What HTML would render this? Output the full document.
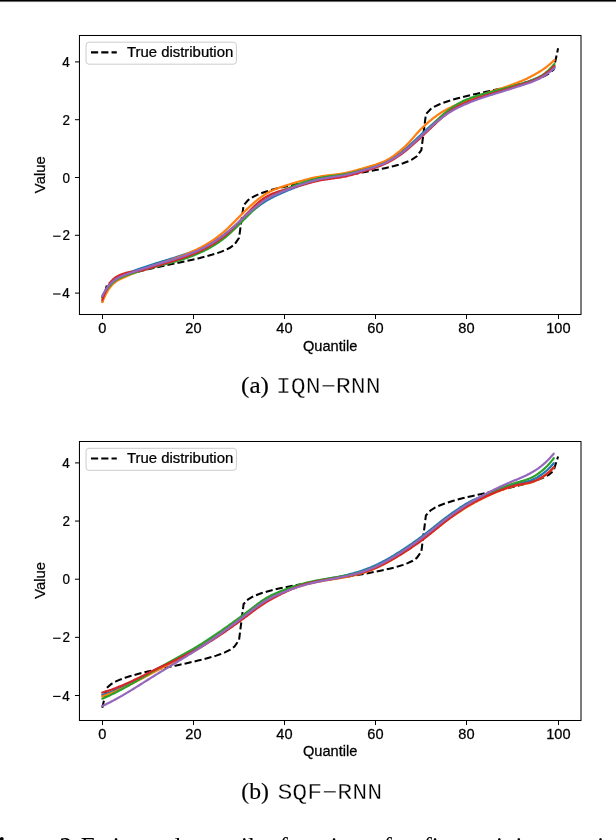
<!DOCTYPE html>
<html><head><meta charset="utf-8"><style>
html,body{margin:0;padding:0;background:#fff;}
body{width:616px;height:840px;overflow:hidden;position:relative;}
svg{position:absolute;left:0;top:0;}
svg text{fill:#000;}
.t{stroke:#000;stroke-width:0.25px;}
.thin{stroke:#fff;stroke-width:0.3px;}
.bold{stroke:#000;stroke-width:0.15px;}
svg{will-change:transform;}
.s{font-family:"Liberation Sans",sans-serif;}
.r{font-family:"Liberation Serif",serif;}
.m{font-family:"Liberation Mono",monospace;}
.cap{position:absolute;white-space:nowrap;color:#000;}
</style></head><body>
<svg width="616" height="840" viewBox="0 0 616 840">
<defs>
<clipPath id="clip0"><rect x="79.45" y="35.5" width="501.55" height="279"/></clipPath>
<clipPath id="clip1"><rect x="79.45" y="441.5" width="501.55" height="279"/></clipPath>
</defs>
<rect x="0" y="0" width="616" height="840" fill="#fff"/>
<rect x="0" y="0" width="616" height="1" fill="#000"/><rect x="0" y="1" width="616" height="1" fill="#6a6a6a"/><rect x="0" y="2" width="616" height="1" fill="#f6f6f6"/>
<g clip-path="url(#clip0)">
<path d="M102.30 302.35 L106.86 285.46 L111.42 281.62 L115.97 279.09 L120.53 277.12 L125.09 275.47 L129.65 274.02 L134.21 272.72 L138.76 271.51 L143.32 270.38 L147.88 269.30 L152.44 268.27 L157.00 267.27 L161.55 266.29 L166.11 265.32 L170.67 264.37 L175.23 263.41 L179.79 262.45 L184.34 261.48 L188.90 260.49 L193.46 259.46 L198.02 258.40 L202.58 257.29 L207.13 256.12 L211.69 254.85 L216.25 253.45 L220.81 251.88 L225.37 250.04 L229.92 247.76 L234.48 244.54 L239.04 237.93 L243.60 205.31 L248.16 200.08 L252.71 197.06 L257.27 194.84 L261.83 193.03 L266.39 191.48 L270.95 190.10 L275.50 188.86 L280.06 187.71 L284.62 186.63 L289.18 185.62 L293.74 184.65 L298.29 183.72 L302.85 182.82 L307.41 181.95 L311.97 181.09 L316.53 180.25 L321.08 179.42 L325.64 178.60 L330.20 177.79 L334.76 177.03 L339.32 176.30 L343.87 175.57 L348.43 174.83 L352.99 174.08 L357.55 173.32 L362.11 172.53 L366.66 171.73 L371.22 170.89 L375.78 170.02 L380.34 169.10 L384.90 168.13 L389.45 167.08 L394.01 165.94 L398.57 164.68 L403.13 163.24 L407.69 161.54 L412.24 159.40 L416.80 156.36 L421.36 150.03 L425.92 114.10 L430.48 109.21 L435.03 106.34 L439.59 104.21 L444.15 102.45 L448.71 100.92 L453.27 99.56 L457.82 98.31 L462.38 97.14 L466.94 96.03 L471.50 94.97 L476.06 93.94 L480.61 92.94 L485.17 91.95 L489.73 90.97 L494.29 89.99 L498.85 89.01 L503.40 88.01 L507.96 86.99 L512.52 85.95 L517.08 84.86 L521.64 83.71 L526.19 82.49 L530.75 81.17 L535.31 79.71 L539.87 78.04 L544.43 76.06 L548.98 73.52 L553.54 69.66 L558.10 48.32" fill="none" stroke="#000" stroke-width="2.05" stroke-dasharray="7.16 3.1"/>
<path d="M102.30 296.52 L103.43 294.29 L104.57 292.22 L105.70 290.32 L106.83 288.56 L107.97 286.95 L109.10 285.47 L110.23 284.12 L111.37 282.89 L112.50 281.76 L113.63 280.74 L114.77 279.81 L115.90 278.96 L117.03 278.19 L118.17 277.49 L119.30 276.85 L120.43 276.26 L121.56 275.71 L122.70 275.20 L123.83 274.71 L124.96 274.25 L126.10 273.79 L127.23 273.34 L128.36 272.89 L129.50 272.46 L130.63 272.02 L131.76 271.59 L132.90 271.17 L134.03 270.75 L135.16 270.34 L136.30 269.93 L137.43 269.53 L138.56 269.13 L139.70 268.73 L140.83 268.34 L141.96 267.95 L143.10 267.56 L144.23 267.18 L145.36 266.80 L146.50 266.43 L147.63 266.05 L148.76 265.69 L149.90 265.32 L151.03 264.96 L152.16 264.60 L153.29 264.24 L154.43 263.88 L155.56 263.53 L156.69 263.17 L157.83 262.82 L158.96 262.47 L160.09 262.11 L161.23 261.76 L162.36 261.42 L163.49 261.07 L164.63 260.72 L165.76 260.37 L166.89 260.03 L168.03 259.68 L169.16 259.33 L170.29 258.98 L171.43 258.63 L172.56 258.28 L173.69 257.93 L174.83 257.57 L175.96 257.22 L177.09 256.86 L178.23 256.49 L179.36 256.13 L180.49 255.77 L181.63 255.40 L182.76 255.03 L183.89 254.66 L185.02 254.28 L186.16 253.89 L187.29 253.50 L188.42 253.11 L189.56 252.71 L190.69 252.30 L191.82 251.88 L192.96 251.45 L194.09 251.02 L195.22 250.57 L196.36 250.12 L197.49 249.65 L198.62 249.18 L199.76 248.69 L200.89 248.18 L202.02 247.67 L203.16 247.14 L204.29 246.60 L205.42 246.05 L206.56 245.49 L207.69 244.91 L208.82 244.32 L209.96 243.72 L211.09 243.10 L212.22 242.47 L213.36 241.82 L214.49 241.15 L215.62 240.47 L216.75 239.77 L217.89 239.05 L219.02 238.31 L220.15 237.55 L221.29 236.78 L222.42 235.98 L223.55 235.16 L224.69 234.31 L225.82 233.45 L226.95 232.57 L228.09 231.68 L229.22 230.77 L230.35 229.84 L231.49 228.91 L232.62 227.96 L233.75 227.00 L234.89 226.04 L236.02 225.07 L237.15 224.09 L238.29 223.11 L239.42 222.12 L240.55 221.13 L241.69 220.14 L242.82 219.16 L243.95 218.17 L245.09 217.18 L246.22 216.20 L247.35 215.23 L248.48 214.26 L249.62 213.30 L250.75 212.34 L251.88 211.40 L253.02 210.47 L254.15 209.55 L255.28 208.65 L256.42 207.76 L257.55 206.89 L258.68 206.03 L259.82 205.19 L260.95 204.38 L262.08 203.58 L263.22 202.81 L264.35 202.06 L265.48 201.34 L266.62 200.64 L267.75 199.97 L268.88 199.31 L270.02 198.68 L271.15 198.07 L272.28 197.48 L273.42 196.90 L274.55 196.34 L275.68 195.79 L276.82 195.25 L277.95 194.73 L279.08 194.21 L280.22 193.71 L281.35 193.21 L282.48 192.72 L283.61 192.24 L284.75 191.75 L285.88 191.27 L287.01 190.79 L288.15 190.32 L289.28 189.85 L290.41 189.38 L291.55 188.92 L292.68 188.46 L293.81 188.01 L294.95 187.56 L296.08 187.12 L297.21 186.68 L298.35 186.25 L299.48 185.83 L300.61 185.41 L301.75 185.01 L302.88 184.61 L304.01 184.21 L305.15 183.83 L306.28 183.46 L307.41 183.09 L308.55 182.73 L309.68 182.37 L310.81 182.03 L311.95 181.69 L313.08 181.37 L314.21 181.05 L315.34 180.74 L316.48 180.44 L317.61 180.15 L318.74 179.87 L319.88 179.60 L321.01 179.34 L322.14 179.09 L323.28 178.85 L324.41 178.62 L325.54 178.41 L326.68 178.20 L327.81 178.00 L328.94 177.81 L330.08 177.62 L331.21 177.44 L332.34 177.26 L333.48 177.09 L334.61 176.91 L335.74 176.73 L336.88 176.55 L338.01 176.36 L339.14 176.17 L340.28 175.98 L341.41 175.77 L342.54 175.56 L343.68 175.33 L344.81 175.10 L345.94 174.85 L347.07 174.59 L348.21 174.32 L349.34 174.03 L350.47 173.74 L351.61 173.44 L352.74 173.14 L353.87 172.82 L355.01 172.50 L356.14 172.18 L357.27 171.85 L358.41 171.51 L359.54 171.18 L360.67 170.84 L361.81 170.50 L362.94 170.16 L364.07 169.82 L365.21 169.48 L366.34 169.14 L367.47 168.80 L368.61 168.45 L369.74 168.11 L370.87 167.76 L372.01 167.40 L373.14 167.03 L374.27 166.65 L375.41 166.27 L376.54 165.87 L377.67 165.46 L378.80 165.03 L379.94 164.59 L381.07 164.13 L382.20 163.65 L383.34 163.15 L384.47 162.63 L385.60 162.08 L386.74 161.51 L387.87 160.92 L389.00 160.30 L390.14 159.66 L391.27 159.00 L392.40 158.31 L393.54 157.60 L394.67 156.87 L395.80 156.12 L396.94 155.34 L398.07 154.55 L399.20 153.73 L400.34 152.89 L401.47 152.02 L402.60 151.14 L403.74 150.23 L404.87 149.31 L406.00 148.36 L407.14 147.40 L408.27 146.42 L409.40 145.43 L410.54 144.42 L411.67 143.40 L412.80 142.37 L413.93 141.33 L415.07 140.28 L416.20 139.22 L417.33 138.16 L418.47 137.10 L419.60 136.03 L420.73 134.96 L421.87 133.90 L423.00 132.83 L424.13 131.77 L425.27 130.71 L426.40 129.66 L427.53 128.62 L428.67 127.59 L429.80 126.56 L430.93 125.54 L432.07 124.54 L433.20 123.55 L434.33 122.57 L435.47 121.61 L436.60 120.67 L437.73 119.74 L438.87 118.83 L440.00 117.94 L441.13 117.07 L442.27 116.22 L443.40 115.40 L444.53 114.60 L445.66 113.83 L446.80 113.07 L447.93 112.35 L449.06 111.64 L450.20 110.95 L451.33 110.29 L452.46 109.64 L453.60 109.01 L454.73 108.40 L455.86 107.81 L457.00 107.22 L458.13 106.66 L459.26 106.10 L460.40 105.56 L461.53 105.03 L462.66 104.51 L463.80 104.00 L464.93 103.50 L466.06 103.01 L467.20 102.52 L468.33 102.04 L469.46 101.58 L470.60 101.12 L471.73 100.66 L472.86 100.22 L474.00 99.78 L475.13 99.34 L476.26 98.92 L477.39 98.50 L478.53 98.08 L479.66 97.67 L480.79 97.27 L481.93 96.87 L483.06 96.47 L484.19 96.08 L485.33 95.69 L486.46 95.31 L487.59 94.92 L488.73 94.54 L489.86 94.17 L490.99 93.79 L492.13 93.42 L493.26 93.05 L494.39 92.68 L495.53 92.31 L496.66 91.94 L497.79 91.57 L498.93 91.20 L500.06 90.83 L501.19 90.46 L502.33 90.09 L503.46 89.72 L504.59 89.35 L505.73 88.97 L506.86 88.60 L507.99 88.22 L509.12 87.84 L510.26 87.46 L511.39 87.08 L512.52 86.70 L513.66 86.32 L514.79 85.94 L515.92 85.56 L517.06 85.19 L518.19 84.81 L519.32 84.44 L520.46 84.07 L521.59 83.70 L522.72 83.33 L523.86 82.96 L524.99 82.59 L526.12 82.21 L527.26 81.83 L528.39 81.44 L529.52 81.04 L530.66 80.62 L531.79 80.20 L532.92 79.77 L534.06 79.34 L535.19 78.90 L536.32 78.45 L537.46 77.98 L538.59 77.50 L539.72 77.00 L540.85 76.49 L541.99 75.94 L543.12 75.38 L544.25 74.78 L545.39 74.15 L546.52 73.49 L547.65 72.80 L548.79 72.06 L549.92 71.28 L551.05 70.46 L552.19 69.60 L553.32 68.68 L554.45 67.71" fill="none" stroke="#1f77b4" stroke-width="2.2" stroke-linejoin="round" stroke-linecap="round"/>
<path d="M102.30 302.01 L103.43 299.36 L104.57 296.88 L105.70 294.59 L106.83 292.47 L107.97 290.53 L109.10 288.77 L110.23 287.18 L111.37 285.76 L112.50 284.52 L113.63 283.46 L114.77 282.51 L115.90 281.66 L117.03 280.89 L118.17 280.20 L119.30 279.58 L120.43 279.00 L121.56 278.47 L122.70 277.96 L123.83 277.48 L124.96 277.01 L126.10 276.53 L127.23 276.05 L128.36 275.57 L129.50 275.08 L130.63 274.59 L131.76 274.10 L132.90 273.61 L134.03 273.12 L135.16 272.64 L136.30 272.16 L137.43 271.68 L138.56 271.21 L139.70 270.75 L140.83 270.29 L141.96 269.85 L143.10 269.41 L144.23 268.98 L145.36 268.56 L146.50 268.15 L147.63 267.74 L148.76 267.34 L149.90 266.93 L151.03 266.54 L152.16 266.14 L153.29 265.75 L154.43 265.36 L155.56 264.97 L156.69 264.59 L157.83 264.21 L158.96 263.82 L160.09 263.45 L161.23 263.07 L162.36 262.69 L163.49 262.32 L164.63 261.94 L165.76 261.57 L166.89 261.19 L168.03 260.81 L169.16 260.44 L170.29 260.06 L171.43 259.68 L172.56 259.29 L173.69 258.91 L174.83 258.51 L175.96 258.12 L177.09 257.72 L178.23 257.31 L179.36 256.90 L180.49 256.48 L181.63 256.05 L182.76 255.62 L183.89 255.18 L185.02 254.73 L186.16 254.27 L187.29 253.80 L188.42 253.33 L189.56 252.85 L190.69 252.35 L191.82 251.85 L192.96 251.34 L194.09 250.81 L195.22 250.28 L196.36 249.73 L197.49 249.17 L198.62 248.60 L199.76 248.02 L200.89 247.42 L202.02 246.81 L203.16 246.19 L204.29 245.55 L205.42 244.90 L206.56 244.23 L207.69 243.54 L208.82 242.84 L209.96 242.12 L211.09 241.39 L212.22 240.64 L213.36 239.87 L214.49 239.08 L215.62 238.27 L216.75 237.44 L217.89 236.60 L219.02 235.73 L220.15 234.84 L221.29 233.93 L222.42 233.00 L223.55 232.05 L224.69 231.08 L225.82 230.07 L226.95 229.04 L228.09 227.97 L229.22 226.89 L230.35 225.78 L231.49 224.65 L232.62 223.52 L233.75 222.37 L234.89 221.21 L236.02 220.05 L237.15 218.88 L238.29 217.72 L239.42 216.57 L240.55 215.42 L241.69 214.29 L242.82 213.17 L243.95 212.07 L245.09 210.98 L246.22 209.90 L247.35 208.83 L248.48 207.77 L249.62 206.71 L250.75 205.68 L251.88 204.65 L253.02 203.64 L254.15 202.65 L255.28 201.68 L256.42 200.74 L257.55 199.81 L258.68 198.91 L259.82 198.04 L260.95 197.19 L262.08 196.37 L263.22 195.59 L264.35 194.84 L265.48 194.12 L266.62 193.44 L267.75 192.80 L268.88 192.18 L270.02 191.60 L271.15 191.04 L272.28 190.51 L273.42 190.00 L274.55 189.52 L275.68 189.06 L276.82 188.61 L277.95 188.18 L279.08 187.77 L280.22 187.37 L281.35 186.98 L282.48 186.60 L283.61 186.23 L284.75 185.87 L285.88 185.51 L287.01 185.15 L288.15 184.79 L289.28 184.44 L290.41 184.10 L291.55 183.75 L292.68 183.41 L293.81 183.08 L294.95 182.74 L296.08 182.41 L297.21 182.08 L298.35 181.76 L299.48 181.43 L300.61 181.11 L301.75 180.79 L302.88 180.47 L304.01 180.16 L305.15 179.84 L306.28 179.54 L307.41 179.24 L308.55 178.95 L309.68 178.67 L310.81 178.40 L311.95 178.14 L313.08 177.89 L314.21 177.64 L315.34 177.41 L316.48 177.18 L317.61 176.96 L318.74 176.75 L319.88 176.55 L321.01 176.36 L322.14 176.18 L323.28 176.01 L324.41 175.85 L325.54 175.69 L326.68 175.55 L327.81 175.41 L328.94 175.27 L330.08 175.14 L331.21 175.02 L332.34 174.89 L333.48 174.76 L334.61 174.63 L335.74 174.49 L336.88 174.35 L338.01 174.20 L339.14 174.04 L340.28 173.88 L341.41 173.70 L342.54 173.51 L343.68 173.30 L344.81 173.08 L345.94 172.85 L347.07 172.60 L348.21 172.34 L349.34 172.08 L350.47 171.80 L351.61 171.52 L352.74 171.22 L353.87 170.92 L355.01 170.62 L356.14 170.31 L357.27 169.99 L358.41 169.67 L359.54 169.35 L360.67 169.03 L361.81 168.71 L362.94 168.38 L364.07 168.06 L365.21 167.73 L366.34 167.41 L367.47 167.08 L368.61 166.76 L369.74 166.43 L370.87 166.09 L372.01 165.75 L373.14 165.40 L374.27 165.04 L375.41 164.68 L376.54 164.29 L377.67 163.90 L378.80 163.49 L379.94 163.07 L381.07 162.63 L382.20 162.17 L383.34 161.69 L384.47 161.19 L385.60 160.65 L386.74 160.07 L387.87 159.46 L389.00 158.81 L390.14 158.12 L391.27 157.40 L392.40 156.64 L393.54 155.86 L394.67 155.04 L395.80 154.20 L396.94 153.33 L398.07 152.43 L399.20 151.51 L400.34 150.56 L401.47 149.59 L402.60 148.61 L403.74 147.60 L404.87 146.57 L406.00 145.48 L407.14 144.35 L408.27 143.17 L409.40 141.97 L410.54 140.73 L411.67 139.47 L412.80 138.20 L413.93 136.91 L415.07 135.63 L416.20 134.35 L417.33 133.07 L418.47 131.82 L419.60 130.58 L420.73 129.37 L421.87 128.20 L423.00 127.07 L424.13 125.99 L425.27 124.94 L426.40 123.92 L427.53 122.91 L428.67 121.93 L429.80 120.97 L430.93 120.03 L432.07 119.12 L433.20 118.23 L434.33 117.36 L435.47 116.51 L436.60 115.69 L437.73 114.89 L438.87 114.11 L440.00 113.36 L441.13 112.64 L442.27 111.93 L443.40 111.26 L444.53 110.60 L445.66 109.98 L446.80 109.37 L447.93 108.78 L449.06 108.22 L450.20 107.67 L451.33 107.13 L452.46 106.61 L453.60 106.10 L454.73 105.60 L455.86 105.11 L457.00 104.62 L458.13 104.13 L459.26 103.65 L460.40 103.16 L461.53 102.68 L462.66 102.19 L463.80 101.69 L464.93 101.19 L466.06 100.70 L467.20 100.21 L468.33 99.74 L469.46 99.27 L470.60 98.82 L471.73 98.37 L472.86 97.93 L474.00 97.50 L475.13 97.07 L476.26 96.65 L477.39 96.24 L478.53 95.83 L479.66 95.43 L480.79 95.04 L481.93 94.65 L483.06 94.26 L484.19 93.88 L485.33 93.50 L486.46 93.13 L487.59 92.76 L488.73 92.39 L489.86 92.02 L490.99 91.66 L492.13 91.29 L493.26 90.93 L494.39 90.57 L495.53 90.21 L496.66 89.85 L497.79 89.49 L498.93 89.13 L500.06 88.77 L501.19 88.41 L502.33 88.04 L503.46 87.68 L504.59 87.31 L505.73 86.93 L506.86 86.54 L507.99 86.14 L509.12 85.74 L510.26 85.32 L511.39 84.90 L512.52 84.48 L513.66 84.04 L514.79 83.61 L515.92 83.17 L517.06 82.73 L518.19 82.28 L519.32 81.84 L520.46 81.39 L521.59 80.94 L522.72 80.46 L523.86 79.97 L524.99 79.46 L526.12 78.94 L527.26 78.40 L528.39 77.84 L529.52 77.27 L530.66 76.68 L531.79 76.08 L532.92 75.47 L534.06 74.84 L535.19 74.20 L536.32 73.54 L537.46 72.88 L538.59 72.20 L539.72 71.52 L540.85 70.82 L541.99 70.10 L543.12 69.34 L544.25 68.56 L545.39 67.74 L546.52 66.90 L547.65 66.01 L548.79 65.09 L549.92 64.14 L551.05 63.14 L552.19 62.11 L553.32 61.03 L554.45 59.91" fill="none" stroke="#ff7f0e" stroke-width="2.2" stroke-linejoin="round" stroke-linecap="round"/>
<path d="M102.30 297.39 L103.43 295.17 L104.57 293.13 L105.70 291.25 L106.83 289.52 L107.97 287.93 L109.10 286.49 L110.23 285.17 L111.37 283.96 L112.50 282.88 L113.63 281.89 L114.77 281.00 L115.90 280.19 L117.03 279.46 L118.17 278.80 L119.30 278.20 L120.43 277.65 L121.56 277.15 L122.70 276.68 L123.83 276.24 L124.96 275.82 L126.10 275.41 L127.23 275.01 L128.36 274.62 L129.50 274.24 L130.63 273.87 L131.76 273.51 L132.90 273.16 L134.03 272.81 L135.16 272.47 L136.30 272.13 L137.43 271.80 L138.56 271.47 L139.70 271.14 L140.83 270.82 L141.96 270.50 L143.10 270.17 L144.23 269.85 L145.36 269.53 L146.50 269.21 L147.63 268.89 L148.76 268.58 L149.90 268.27 L151.03 267.96 L152.16 267.65 L153.29 267.35 L154.43 267.04 L155.56 266.74 L156.69 266.44 L157.83 266.15 L158.96 265.85 L160.09 265.55 L161.23 265.26 L162.36 264.96 L163.49 264.67 L164.63 264.37 L165.76 264.08 L166.89 263.78 L168.03 263.48 L169.16 263.19 L170.29 262.88 L171.43 262.58 L172.56 262.27 L173.69 261.96 L174.83 261.65 L175.96 261.33 L177.09 261.00 L178.23 260.67 L179.36 260.33 L180.49 259.99 L181.63 259.63 L182.76 259.27 L183.89 258.91 L185.02 258.53 L186.16 258.15 L187.29 257.76 L188.42 257.36 L189.56 256.95 L190.69 256.53 L191.82 256.11 L192.96 255.67 L194.09 255.23 L195.22 254.77 L196.36 254.31 L197.49 253.83 L198.62 253.34 L199.76 252.84 L200.89 252.32 L202.02 251.79 L203.16 251.25 L204.29 250.70 L205.42 250.13 L206.56 249.54 L207.69 248.94 L208.82 248.32 L209.96 247.69 L211.09 247.04 L212.22 246.37 L213.36 245.69 L214.49 244.98 L215.62 244.26 L216.75 243.52 L217.89 242.76 L219.02 241.98 L220.15 241.18 L221.29 240.36 L222.42 239.51 L223.55 238.65 L224.69 237.76 L225.82 236.84 L226.95 235.89 L228.09 234.92 L229.22 233.92 L230.35 232.89 L231.49 231.84 L232.62 230.78 L233.75 229.69 L234.89 228.60 L236.02 227.49 L237.15 226.37 L238.29 225.24 L239.42 224.11 L240.55 222.98 L241.69 221.84 L242.82 220.71 L243.95 219.58 L245.09 218.45 L246.22 217.32 L247.35 216.17 L248.48 215.02 L249.62 213.87 L250.75 212.73 L251.88 211.59 L253.02 210.47 L254.15 209.36 L255.28 208.27 L256.42 207.20 L257.55 206.15 L258.68 205.14 L259.82 204.15 L260.95 203.20 L262.08 202.29 L263.22 201.43 L264.35 200.60 L265.48 199.82 L266.62 199.06 L267.75 198.33 L268.88 197.62 L270.02 196.94 L271.15 196.28 L272.28 195.64 L273.42 195.02 L274.55 194.42 L275.68 193.84 L276.82 193.28 L277.95 192.72 L279.08 192.18 L280.22 191.66 L281.35 191.14 L282.48 190.63 L283.61 190.13 L284.75 189.63 L285.88 189.14 L287.01 188.65 L288.15 188.17 L289.28 187.70 L290.41 187.23 L291.55 186.77 L292.68 186.31 L293.81 185.86 L294.95 185.42 L296.08 184.99 L297.21 184.56 L298.35 184.14 L299.48 183.74 L300.61 183.33 L301.75 182.94 L302.88 182.56 L304.01 182.19 L305.15 181.83 L306.28 181.47 L307.41 181.13 L308.55 180.79 L309.68 180.46 L310.81 180.14 L311.95 179.84 L313.08 179.54 L314.21 179.25 L315.34 178.97 L316.48 178.70 L317.61 178.44 L318.74 178.20 L319.88 177.96 L321.01 177.73 L322.14 177.52 L323.28 177.31 L324.41 177.12 L325.54 176.94 L326.68 176.77 L327.81 176.61 L328.94 176.45 L330.08 176.30 L331.21 176.16 L332.34 176.02 L333.48 175.88 L334.61 175.73 L335.74 175.59 L336.88 175.45 L338.01 175.30 L339.14 175.15 L340.28 174.99 L341.41 174.82 L342.54 174.64 L343.68 174.45 L344.81 174.25 L345.94 174.03 L347.07 173.81 L348.21 173.58 L349.34 173.34 L350.47 173.09 L351.61 172.83 L352.74 172.57 L353.87 172.30 L355.01 172.03 L356.14 171.75 L357.27 171.47 L358.41 171.18 L359.54 170.89 L360.67 170.60 L361.81 170.31 L362.94 170.02 L364.07 169.73 L365.21 169.43 L366.34 169.14 L367.47 168.85 L368.61 168.55 L369.74 168.25 L370.87 167.94 L372.01 167.63 L373.14 167.30 L374.27 166.96 L375.41 166.62 L376.54 166.25 L377.67 165.88 L378.80 165.48 L379.94 165.07 L381.07 164.64 L382.20 164.19 L383.34 163.71 L384.47 163.21 L385.60 162.69 L386.74 162.14 L387.87 161.57 L389.00 160.98 L390.14 160.37 L391.27 159.73 L392.40 159.08 L393.54 158.40 L394.67 157.70 L395.80 156.98 L396.94 156.23 L398.07 155.47 L399.20 154.68 L400.34 153.88 L401.47 153.05 L402.60 152.19 L403.74 151.32 L404.87 150.43 L406.00 149.52 L407.14 148.58 L408.27 147.63 L409.40 146.67 L410.54 145.69 L411.67 144.69 L412.80 143.68 L413.93 142.67 L415.07 141.64 L416.20 140.60 L417.33 139.56 L418.47 138.51 L419.60 137.45 L420.73 136.39 L421.87 135.33 L423.00 134.27 L424.13 133.21 L425.27 132.14 L426.40 131.04 L427.53 129.92 L428.67 128.78 L429.80 127.63 L430.93 126.47 L432.07 125.31 L433.20 124.15 L434.33 122.99 L435.47 121.83 L436.60 120.69 L437.73 119.57 L438.87 118.46 L440.00 117.39 L441.13 116.34 L442.27 115.32 L443.40 114.34 L444.53 113.40 L445.66 112.48 L446.80 111.58 L447.93 110.70 L449.06 109.84 L450.20 109.00 L451.33 108.18 L452.46 107.39 L453.60 106.61 L454.73 105.87 L455.86 105.14 L457.00 104.44 L458.13 103.77 L459.26 103.12 L460.40 102.50 L461.53 101.91 L462.66 101.35 L463.80 100.82 L464.93 100.32 L466.06 99.84 L467.20 99.37 L468.33 98.91 L469.46 98.47 L470.60 98.05 L471.73 97.63 L472.86 97.23 L474.00 96.84 L475.13 96.46 L476.26 96.10 L477.39 95.74 L478.53 95.39 L479.66 95.05 L480.79 94.72 L481.93 94.39 L483.06 94.08 L484.19 93.77 L485.33 93.46 L486.46 93.16 L487.59 92.86 L488.73 92.57 L489.86 92.28 L490.99 91.99 L492.13 91.70 L493.26 91.42 L494.39 91.13 L495.53 90.85 L496.66 90.56 L497.79 90.27 L498.93 89.98 L500.06 89.69 L501.19 89.39 L502.33 89.09 L503.46 88.79 L504.59 88.48 L505.73 88.17 L506.86 87.86 L507.99 87.54 L509.12 87.23 L510.26 86.92 L511.39 86.61 L512.52 86.30 L513.66 85.98 L514.79 85.67 L515.92 85.35 L517.06 85.04 L518.19 84.72 L519.32 84.41 L520.46 84.09 L521.59 83.77 L522.72 83.44 L523.86 83.12 L524.99 82.78 L526.12 82.43 L527.26 82.08 L528.39 81.70 L529.52 81.32 L530.66 80.91 L531.79 80.48 L532.92 80.03 L534.06 79.55 L535.19 79.04 L536.32 78.50 L537.46 77.93 L538.59 77.33 L539.72 76.70 L540.85 76.04 L541.99 75.33 L543.12 74.56 L544.25 73.75 L545.39 72.88 L546.52 71.96 L547.65 70.98 L548.79 69.95 L549.92 68.87 L551.05 67.73 L552.19 66.53 L553.32 65.27 L554.45 63.96" fill="none" stroke="#2ca02c" stroke-width="2.2" stroke-linejoin="round" stroke-linecap="round"/>
<path d="M102.30 299.70 L103.43 296.65 L104.57 293.79 L105.70 291.13 L106.83 288.67 L107.97 286.43 L109.10 284.42 L110.23 282.64 L111.37 281.12 L112.50 279.86 L113.63 278.87 L114.77 278.00 L115.90 277.23 L117.03 276.54 L118.17 275.92 L119.30 275.36 L120.43 274.85 L121.56 274.39 L122.70 273.97 L123.83 273.57 L124.96 273.20 L126.10 272.84 L127.23 272.53 L128.36 272.27 L129.50 272.06 L130.63 271.88 L131.76 271.73 L132.90 271.61 L134.03 271.50 L135.16 271.39 L136.30 271.28 L137.43 271.17 L138.56 271.03 L139.70 270.88 L140.83 270.69 L141.96 270.46 L143.10 270.18 L144.23 269.85 L145.36 269.49 L146.50 269.13 L147.63 268.77 L148.76 268.42 L149.90 268.06 L151.03 267.71 L152.16 267.36 L153.29 267.01 L154.43 266.66 L155.56 266.32 L156.69 265.97 L157.83 265.63 L158.96 265.28 L160.09 264.94 L161.23 264.60 L162.36 264.26 L163.49 263.92 L164.63 263.57 L165.76 263.23 L166.89 262.89 L168.03 262.55 L169.16 262.21 L170.29 261.86 L171.43 261.52 L172.56 261.17 L173.69 260.82 L174.83 260.46 L175.96 260.11 L177.09 259.74 L178.23 259.38 L179.36 259.01 L180.49 258.63 L181.63 258.25 L182.76 257.86 L183.89 257.47 L185.02 257.07 L186.16 256.66 L187.29 256.25 L188.42 255.83 L189.56 255.40 L190.69 254.96 L191.82 254.51 L192.96 254.05 L194.09 253.58 L195.22 253.10 L196.36 252.62 L197.49 252.12 L198.62 251.60 L199.76 251.08 L200.89 250.54 L202.02 250.00 L203.16 249.43 L204.29 248.86 L205.42 248.27 L206.56 247.67 L207.69 247.05 L208.82 246.42 L209.96 245.77 L211.09 245.10 L212.22 244.42 L213.36 243.72 L214.49 243.01 L215.62 242.28 L216.75 241.53 L217.89 240.76 L219.02 239.97 L220.15 239.16 L221.29 238.34 L222.42 237.49 L223.55 236.63 L224.69 235.74 L225.82 234.81 L226.95 233.83 L228.09 232.82 L229.22 231.78 L230.35 230.70 L231.49 229.60 L232.62 228.47 L233.75 227.32 L234.89 226.15 L236.02 224.98 L237.15 223.79 L238.29 222.60 L239.42 221.41 L240.55 220.22 L241.69 219.03 L242.82 217.86 L243.95 216.70 L245.09 215.54 L246.22 214.38 L247.35 213.22 L248.48 212.06 L249.62 210.90 L250.75 209.76 L251.88 208.62 L253.02 207.51 L254.15 206.41 L255.28 205.33 L256.42 204.29 L257.55 203.27 L258.68 202.29 L259.82 201.34 L260.95 200.44 L262.08 199.58 L263.22 198.77 L264.35 198.02 L265.48 197.31 L266.62 196.64 L267.75 196.01 L268.88 195.42 L270.02 194.86 L271.15 194.33 L272.28 193.84 L273.42 193.37 L274.55 192.93 L275.68 192.52 L276.82 192.12 L277.95 191.74 L279.08 191.38 L280.22 191.04 L281.35 190.70 L282.48 190.38 L283.61 190.06 L284.75 189.75 L285.88 189.44 L287.01 189.14 L288.15 188.83 L289.28 188.53 L290.41 188.23 L291.55 187.93 L292.68 187.63 L293.81 187.33 L294.95 187.03 L296.08 186.73 L297.21 186.42 L298.35 186.11 L299.48 185.80 L300.61 185.48 L301.75 185.16 L302.88 184.83 L304.01 184.49 L305.15 184.16 L306.28 183.83 L307.41 183.51 L308.55 183.19 L309.68 182.89 L310.81 182.59 L311.95 182.29 L313.08 182.01 L314.21 181.73 L315.34 181.46 L316.48 181.20 L317.61 180.95 L318.74 180.71 L319.88 180.48 L321.01 180.26 L322.14 180.04 L323.28 179.84 L324.41 179.64 L325.54 179.46 L326.68 179.29 L327.81 179.12 L328.94 178.96 L330.08 178.80 L331.21 178.64 L332.34 178.49 L333.48 178.34 L334.61 178.19 L335.74 178.03 L336.88 177.87 L338.01 177.71 L339.14 177.54 L340.28 177.36 L341.41 177.18 L342.54 176.98 L343.68 176.77 L344.81 176.55 L345.94 176.31 L347.07 176.06 L348.21 175.80 L349.34 175.52 L350.47 175.23 L351.61 174.93 L352.74 174.62 L353.87 174.31 L355.01 173.98 L356.14 173.65 L357.27 173.32 L358.41 172.98 L359.54 172.63 L360.67 172.29 L361.81 171.94 L362.94 171.59 L364.07 171.24 L365.21 170.89 L366.34 170.54 L367.47 170.19 L368.61 169.84 L369.74 169.49 L370.87 169.13 L372.01 168.77 L373.14 168.40 L374.27 168.02 L375.41 167.64 L376.54 167.24 L377.67 166.83 L378.80 166.41 L379.94 165.98 L381.07 165.53 L382.20 165.06 L383.34 164.58 L384.47 164.08 L385.60 163.55 L386.74 163.01 L387.87 162.45 L389.00 161.86 L390.14 161.25 L391.27 160.63 L392.40 159.98 L393.54 159.31 L394.67 158.62 L395.80 157.90 L396.94 157.17 L398.07 156.42 L399.20 155.64 L400.34 154.85 L401.47 154.03 L402.60 153.19 L403.74 152.33 L404.87 151.45 L406.00 150.55 L407.14 149.63 L408.27 148.69 L409.40 147.73 L410.54 146.76 L411.67 145.78 L412.80 144.78 L413.93 143.77 L415.07 142.75 L416.20 141.73 L417.33 140.69 L418.47 139.65 L419.60 138.60 L420.73 137.54 L421.87 136.49 L423.00 135.43 L424.13 134.37 L425.27 133.31 L426.40 132.23 L427.53 131.16 L428.67 130.07 L429.80 128.99 L430.93 127.90 L432.07 126.82 L433.20 125.73 L434.33 124.66 L435.47 123.59 L436.60 122.53 L437.73 121.49 L438.87 120.45 L440.00 119.44 L441.13 118.44 L442.27 117.46 L443.40 116.50 L444.53 115.57 L445.66 114.66 L446.80 113.77 L447.93 112.91 L449.06 112.08 L450.20 111.27 L451.33 110.48 L452.46 109.72 L453.60 108.98 L454.73 108.27 L455.86 107.58 L457.00 106.92 L458.13 106.28 L459.26 105.66 L460.40 105.07 L461.53 104.49 L462.66 103.95 L463.80 103.42 L464.93 102.92 L466.06 102.43 L467.20 101.96 L468.33 101.49 L469.46 101.04 L470.60 100.60 L471.73 100.17 L472.86 99.75 L474.00 99.34 L475.13 98.93 L476.26 98.54 L477.39 98.15 L478.53 97.77 L479.66 97.40 L480.79 97.04 L481.93 96.68 L483.06 96.32 L484.19 95.97 L485.33 95.63 L486.46 95.29 L487.59 94.95 L488.73 94.61 L489.86 94.28 L490.99 93.95 L492.13 93.62 L493.26 93.29 L494.39 92.96 L495.53 92.63 L496.66 92.30 L497.79 91.97 L498.93 91.63 L500.06 91.30 L501.19 90.96 L502.33 90.61 L503.46 90.27 L504.59 89.91 L505.73 89.56 L506.86 89.20 L507.99 88.84 L509.12 88.49 L510.26 88.13 L511.39 87.76 L512.52 87.40 L513.66 87.04 L514.79 86.68 L515.92 86.32 L517.06 85.95 L518.19 85.59 L519.32 85.23 L520.46 84.88 L521.59 84.52 L522.72 84.16 L523.86 83.80 L524.99 83.43 L526.12 83.06 L527.26 82.69 L528.39 82.30 L529.52 81.90 L530.66 81.49 L531.79 81.06 L532.92 80.62 L534.06 80.14 L535.19 79.65 L536.32 79.12 L537.46 78.57 L538.59 77.99 L539.72 77.38 L540.85 76.74 L541.99 76.06 L543.12 75.35 L544.25 74.60 L545.39 73.81 L546.52 72.98 L547.65 72.12 L548.79 71.21 L549.92 70.25 L551.05 69.26 L552.19 68.21 L553.32 67.12 L554.45 65.98" fill="none" stroke="#d62728" stroke-width="2.2" stroke-linejoin="round" stroke-linecap="round"/>
<path d="M102.30 295.94 L103.43 293.79 L104.57 291.80 L105.70 289.97 L106.83 288.29 L107.97 286.76 L109.10 285.35 L110.23 284.07 L111.37 282.90 L112.50 281.85 L113.63 280.89 L114.77 280.02 L115.90 279.24 L117.03 278.53 L118.17 277.88 L119.30 277.30 L120.43 276.76 L121.56 276.27 L122.70 275.81 L123.83 275.37 L124.96 274.95 L126.10 274.54 L127.23 274.13 L128.36 273.73 L129.50 273.33 L130.63 272.93 L131.76 272.54 L132.90 272.15 L134.03 271.76 L135.16 271.38 L136.30 271.00 L137.43 270.62 L138.56 270.24 L139.70 269.87 L140.83 269.50 L141.96 269.13 L143.10 268.77 L144.23 268.40 L145.36 268.04 L146.50 267.68 L147.63 267.33 L148.76 266.97 L149.90 266.62 L151.03 266.27 L152.16 265.92 L153.29 265.57 L154.43 265.22 L155.56 264.87 L156.69 264.53 L157.83 264.18 L158.96 263.84 L160.09 263.50 L161.23 263.15 L162.36 262.81 L163.49 262.47 L164.63 262.13 L165.76 261.79 L166.89 261.45 L168.03 261.11 L169.16 260.76 L170.29 260.42 L171.43 260.07 L172.56 259.72 L173.69 259.37 L174.83 259.02 L175.96 258.66 L177.09 258.30 L178.23 257.93 L179.36 257.56 L180.49 257.19 L181.63 256.81 L182.76 256.42 L183.89 256.03 L185.02 255.63 L186.16 255.22 L187.29 254.80 L188.42 254.38 L189.56 253.95 L190.69 253.51 L191.82 253.06 L192.96 252.61 L194.09 252.14 L195.22 251.66 L196.36 251.17 L197.49 250.67 L198.62 250.16 L199.76 249.64 L200.89 249.10 L202.02 248.55 L203.16 247.99 L204.29 247.41 L205.42 246.83 L206.56 246.22 L207.69 245.60 L208.82 244.97 L209.96 244.32 L211.09 243.66 L212.22 242.98 L213.36 242.28 L214.49 241.56 L215.62 240.83 L216.75 240.08 L217.89 239.31 L219.02 238.53 L220.15 237.72 L221.29 236.89 L222.42 236.05 L223.55 235.18 L224.69 234.29 L225.82 233.39 L226.95 232.46 L228.09 231.52 L229.22 230.56 L230.35 229.58 L231.49 228.60 L232.62 227.60 L233.75 226.59 L234.89 225.57 L236.02 224.54 L237.15 223.51 L238.29 222.47 L239.42 221.43 L240.55 220.39 L241.69 219.34 L242.82 218.30 L243.95 217.26 L245.09 216.23 L246.22 215.20 L247.35 214.18 L248.48 213.16 L249.62 212.16 L250.75 211.16 L251.88 210.18 L253.02 209.21 L254.15 208.26 L255.28 207.33 L256.42 206.41 L257.55 205.51 L258.68 204.63 L259.82 203.78 L260.95 202.95 L262.08 202.15 L263.22 201.37 L264.35 200.62 L265.48 199.90 L266.62 199.20 L267.75 198.54 L268.88 197.89 L270.02 197.27 L271.15 196.68 L272.28 196.10 L273.42 195.54 L274.55 195.00 L275.68 194.48 L276.82 193.96 L277.95 193.47 L279.08 192.98 L280.22 192.50 L281.35 192.04 L282.48 191.58 L283.61 191.12 L284.75 190.67 L285.88 190.22 L287.01 189.78 L288.15 189.33 L289.28 188.90 L290.41 188.46 L291.55 188.03 L292.68 187.61 L293.81 187.18 L294.95 186.77 L296.08 186.36 L297.21 185.95 L298.35 185.55 L299.48 185.15 L300.61 184.76 L301.75 184.38 L302.88 184.00 L304.01 183.63 L305.15 183.27 L306.28 182.91 L307.41 182.56 L308.55 182.22 L309.68 181.89 L310.81 181.56 L311.95 181.25 L313.08 180.94 L314.21 180.64 L315.34 180.34 L316.48 180.06 L317.61 179.79 L318.74 179.53 L319.88 179.27 L321.01 179.03 L322.14 178.80 L323.28 178.57 L324.41 178.36 L325.54 178.16 L326.68 177.97 L327.81 177.79 L328.94 177.61 L330.08 177.44 L331.21 177.27 L332.34 177.11 L333.48 176.95 L334.61 176.78 L335.74 176.62 L336.88 176.45 L338.01 176.28 L339.14 176.11 L340.28 175.93 L341.41 175.74 L342.54 175.54 L343.68 175.33 L344.81 175.10 L345.94 174.87 L347.07 174.62 L348.21 174.37 L349.34 174.10 L350.47 173.82 L351.61 173.54 L352.74 173.25 L353.87 172.95 L355.01 172.64 L356.14 172.33 L357.27 172.02 L358.41 171.70 L359.54 171.38 L360.67 171.05 L361.81 170.73 L362.94 170.40 L364.07 170.08 L365.21 169.76 L366.34 169.43 L367.47 169.11 L368.61 168.78 L369.74 168.45 L370.87 168.12 L372.01 167.77 L373.14 167.43 L374.27 167.07 L375.41 166.70 L376.54 166.32 L377.67 165.92 L378.80 165.52 L379.94 165.09 L381.07 164.65 L382.20 164.19 L383.34 163.71 L384.47 163.21 L385.60 162.69 L386.74 162.14 L387.87 161.57 L389.00 160.98 L390.14 160.37 L391.27 159.73 L392.40 159.08 L393.54 158.40 L394.67 157.70 L395.80 156.98 L396.94 156.23 L398.07 155.47 L399.20 154.68 L400.34 153.88 L401.47 153.05 L402.60 152.19 L403.74 151.32 L404.87 150.43 L406.00 149.52 L407.14 148.58 L408.27 147.63 L409.40 146.67 L410.54 145.69 L411.67 144.69 L412.80 143.68 L413.93 142.67 L415.07 141.64 L416.20 140.60 L417.33 139.56 L418.47 138.51 L419.60 137.45 L420.73 136.39 L421.87 135.33 L423.00 134.27 L424.13 133.21 L425.27 132.16 L426.40 131.10 L427.53 130.05 L428.67 129.01 L429.80 127.97 L430.93 126.94 L432.07 125.93 L433.20 124.92 L434.33 123.92 L435.47 122.94 L436.60 121.98 L437.73 121.03 L438.87 120.10 L440.00 119.18 L441.13 118.29 L442.27 117.42 L443.40 116.57 L444.53 115.75 L445.66 114.95 L446.80 114.17 L447.93 113.42 L449.06 112.69 L450.20 111.98 L451.33 111.30 L452.46 110.63 L453.60 109.98 L454.73 109.35 L455.86 108.74 L457.00 108.14 L458.13 107.56 L459.26 107.00 L460.40 106.44 L461.53 105.91 L462.66 105.38 L463.80 104.87 L464.93 104.37 L466.06 103.87 L467.20 103.39 L468.33 102.92 L469.46 102.46 L470.60 102.00 L471.73 101.56 L472.86 101.12 L474.00 100.69 L475.13 100.27 L476.26 99.86 L477.39 99.45 L478.53 99.05 L479.66 98.66 L480.79 98.27 L481.93 97.88 L483.06 97.51 L484.19 97.13 L485.33 96.76 L486.46 96.40 L487.59 96.03 L488.73 95.67 L489.86 95.32 L490.99 94.96 L492.13 94.61 L493.26 94.26 L494.39 93.91 L495.53 93.57 L496.66 93.22 L497.79 92.87 L498.93 92.53 L500.06 92.18 L501.19 91.83 L502.33 91.48 L503.46 91.13 L504.59 90.78 L505.73 90.43 L506.86 90.07 L507.99 89.71 L509.12 89.35 L510.26 88.99 L511.39 88.63 L512.52 88.27 L513.66 87.91 L514.79 87.55 L515.92 87.18 L517.06 86.82 L518.19 86.46 L519.32 86.10 L520.46 85.74 L521.59 85.38 L522.72 85.03 L523.86 84.67 L524.99 84.30 L526.12 83.93 L527.26 83.55 L528.39 83.17 L529.52 82.77 L530.66 82.36 L531.79 81.93 L532.92 81.49 L534.06 81.03 L535.19 80.55 L536.32 80.05 L537.46 79.53 L538.59 78.98 L539.72 78.40 L540.85 77.80 L541.99 77.17 L543.12 76.50 L544.25 75.80 L545.39 75.07 L546.52 74.30 L547.65 73.49 L548.79 72.63 L549.92 71.74 L551.05 70.80 L552.19 69.82 L553.32 68.79 L554.45 67.71" fill="none" stroke="#9467bd" stroke-width="2.2" stroke-linejoin="round" stroke-linecap="round"/>
</g>
<rect x="79.45" y="35.50" width="501.55" height="279.00" fill="none" stroke="#000" stroke-width="1.03"/>
<line x1="74.95" y1="293.10" x2="79.45" y2="293.10" stroke="#000" stroke-width="1.03"/>
<text class="s t" transform="translate(62.29 298.20) scale(0.97 1)" font-size="13.90">4</text>
<rect x="53.1" y="293.43" width="7.5" height="1.15" fill="#000"/>
<line x1="74.95" y1="235.30" x2="79.45" y2="235.30" stroke="#000" stroke-width="1.03"/>
<text class="s t" transform="translate(62.56 240.40) scale(0.97 1)" font-size="13.90">2</text>
<rect x="53.1" y="235.63" width="7.5" height="1.15" fill="#000"/>
<line x1="74.95" y1="177.50" x2="79.45" y2="177.50" stroke="#000" stroke-width="1.03"/>
<text class="s t" transform="translate(62.42 182.60) scale(0.97 1)" font-size="13.90">0</text>
<line x1="74.95" y1="119.70" x2="79.45" y2="119.70" stroke="#000" stroke-width="1.03"/>
<text class="s t" transform="translate(62.56 124.80) scale(0.97 1)" font-size="13.90">2</text>
<line x1="74.95" y1="61.90" x2="79.45" y2="61.90" stroke="#000" stroke-width="1.03"/>
<text class="s t" transform="translate(62.29 67.00) scale(0.97 1)" font-size="13.90">4</text>
<line x1="102.50" y1="314.50" x2="102.50" y2="319.00" stroke="#000" stroke-width="1.0"/>
<text class="s t" text-anchor="middle" transform="translate(102.40 332.90) scale(1.05 1)" font-size="13.90">0</text>
<line x1="193.50" y1="314.50" x2="193.50" y2="319.00" stroke="#000" stroke-width="1.0"/>
<text class="s t" text-anchor="middle" transform="translate(193.40 332.90) scale(1.05 1)" font-size="13.90">20</text>
<line x1="284.50" y1="314.50" x2="284.50" y2="319.00" stroke="#000" stroke-width="1.0"/>
<text class="s t" text-anchor="middle" transform="translate(284.40 332.90) scale(1.05 1)" font-size="13.90">40</text>
<line x1="375.50" y1="314.50" x2="375.50" y2="319.00" stroke="#000" stroke-width="1.0"/>
<text class="s t" text-anchor="middle" transform="translate(375.40 332.90) scale(1.05 1)" font-size="13.90">60</text>
<line x1="466.50" y1="314.50" x2="466.50" y2="319.00" stroke="#000" stroke-width="1.0"/>
<text class="s t" text-anchor="middle" transform="translate(466.40 332.90) scale(1.05 1)" font-size="13.90">80</text>
<line x1="558.50" y1="314.50" x2="558.50" y2="319.00" stroke="#000" stroke-width="1.0"/>
<text class="s t" text-anchor="middle" transform="translate(558.40 332.90) scale(1.05 1)" font-size="13.90">100</text>
<text class="s t" transform="translate(302.97 350.50) scale(1.028 1)" font-size="14.20">Quantile</text>
<text class="s t" text-anchor="middle" transform="translate(44.9 174.70) rotate(-90) scale(1.046 1)" font-size="14.20">Value</text>
<rect x="86" y="42.20" width="150.4" height="22" rx="3" fill="#fff" fill-opacity="0.8" stroke="#cccccc" stroke-width="1"/>
<line x1="91" y1="52.35" x2="116.8" y2="52.35" stroke="#000" stroke-width="2.1" stroke-dasharray="7.16 3.1"/>
<text class="s t" transform="translate(126.90 57.00) scale(1.051 1)" font-size="14.20">True distribution</text>
<g clip-path="url(#clip1)">
<path d="M102.30 707.71 L106.86 687.81 L111.42 683.95 L115.97 681.41 L120.53 679.43 L125.09 677.77 L129.65 676.31 L134.21 674.99 L138.76 673.78 L143.32 672.64 L147.88 671.56 L152.44 670.52 L157.00 669.51 L161.55 668.53 L166.11 667.56 L170.67 666.59 L175.23 665.63 L179.79 664.67 L184.34 663.69 L188.90 662.69 L193.46 661.66 L198.02 660.59 L202.58 659.48 L207.13 658.29 L211.69 657.02 L216.25 655.61 L220.81 654.03 L225.37 652.18 L229.92 649.88 L234.48 646.64 L239.04 640.00 L243.60 604.07 L248.16 599.39 L252.71 596.70 L257.27 594.70 L261.83 593.09 L266.39 591.70 L270.95 590.47 L275.50 589.36 L280.06 588.33 L284.62 587.37 L289.18 586.46 L293.74 585.59 L298.29 584.76 L302.85 583.96 L307.41 583.18 L311.97 582.41 L316.53 581.66 L321.08 580.92 L325.64 580.19 L330.20 579.46 L334.76 578.73 L339.32 578.00 L343.87 577.26 L348.43 576.52 L352.99 575.76 L357.55 574.99 L362.11 574.20 L366.66 573.39 L371.22 572.55 L375.78 571.67 L380.34 570.75 L384.90 569.77 L389.45 568.72 L394.01 567.57 L398.57 566.30 L403.13 564.86 L407.69 563.15 L412.24 560.99 L416.80 557.94 L421.36 551.57 L425.92 515.42 L430.48 510.49 L435.03 507.61 L439.59 505.46 L444.15 503.69 L448.71 502.16 L453.27 500.79 L457.82 499.53 L462.38 498.35 L466.94 497.24 L471.50 496.17 L476.06 495.14 L480.61 494.13 L485.17 493.13 L489.73 492.15 L494.29 491.16 L498.85 490.17 L503.40 489.17 L507.96 488.15 L512.52 487.09 L517.08 485.99 L521.64 484.84 L526.19 483.61 L530.75 482.28 L535.31 480.82 L539.87 479.14 L544.43 477.15 L548.98 474.59 L553.54 470.71 L558.10 456.50" fill="none" stroke="#000" stroke-width="2.05" stroke-dasharray="7.16 3.1"/>
<path d="M102.30 694.91 L103.43 694.56 L104.56 694.19 L105.69 693.81 L106.83 693.42 L107.96 693.01 L109.09 692.60 L110.22 692.18 L111.35 691.74 L112.48 691.30 L113.62 690.85 L114.75 690.39 L115.88 689.92 L117.01 689.44 L118.14 688.96 L119.27 688.46 L120.40 687.96 L121.54 687.45 L122.67 686.94 L123.80 686.41 L124.93 685.89 L126.06 685.35 L127.19 684.81 L128.32 684.26 L129.46 683.71 L130.59 683.15 L131.72 682.59 L132.85 682.03 L133.98 681.46 L135.11 680.88 L136.25 680.30 L137.38 679.72 L138.51 679.14 L139.64 678.55 L140.77 677.96 L141.90 677.37 L143.03 676.78 L144.17 676.18 L145.30 675.58 L146.43 674.99 L147.56 674.39 L148.69 673.79 L149.82 673.19 L150.95 672.58 L152.09 671.98 L153.22 671.39 L154.35 670.79 L155.48 670.19 L156.61 669.59 L157.74 669.00 L158.88 668.41 L160.01 667.82 L161.14 667.23 L162.27 666.64 L163.40 666.05 L164.53 665.46 L165.66 664.88 L166.80 664.30 L167.93 663.73 L169.06 663.15 L170.19 662.59 L171.32 662.02 L172.45 661.45 L173.58 660.89 L174.72 660.32 L175.85 659.76 L176.98 659.20 L178.11 658.63 L179.24 658.06 L180.37 657.49 L181.51 656.92 L182.64 656.35 L183.77 655.77 L184.90 655.18 L186.03 654.60 L187.16 654.00 L188.29 653.40 L189.43 652.80 L190.56 652.19 L191.69 651.56 L192.82 650.94 L193.95 650.30 L195.08 649.65 L196.21 649.00 L197.35 648.33 L198.48 647.65 L199.61 646.97 L200.74 646.27 L201.87 645.55 L203.00 644.83 L204.14 644.09 L205.27 643.34 L206.40 642.59 L207.53 641.83 L208.66 641.07 L209.79 640.31 L210.92 639.54 L212.06 638.76 L213.19 637.99 L214.32 637.21 L215.45 636.42 L216.58 635.64 L217.71 634.84 L218.84 634.05 L219.98 633.25 L221.11 632.45 L222.24 631.65 L223.37 630.84 L224.50 630.03 L225.63 629.22 L226.77 628.40 L227.90 627.58 L229.03 626.76 L230.16 625.94 L231.29 625.11 L232.42 624.29 L233.55 623.46 L234.69 622.62 L235.82 621.79 L236.95 620.95 L238.08 620.11 L239.21 619.27 L240.34 618.43 L241.47 617.59 L242.61 616.74 L243.74 615.90 L244.87 615.05 L246.00 614.20 L247.13 613.35 L248.26 612.50 L249.40 611.65 L250.53 610.80 L251.66 609.94 L252.79 609.09 L253.92 608.25 L255.05 607.40 L256.18 606.57 L257.32 605.75 L258.45 604.94 L259.58 604.14 L260.71 603.36 L261.84 602.60 L262.97 601.85 L264.11 601.13 L265.24 600.44 L266.37 599.77 L267.50 599.12 L268.63 598.49 L269.76 597.88 L270.89 597.29 L272.03 596.72 L273.16 596.16 L274.29 595.62 L275.42 595.10 L276.55 594.59 L277.68 594.09 L278.81 593.60 L279.95 593.12 L281.08 592.66 L282.21 592.19 L283.34 591.74 L284.47 591.29 L285.60 590.85 L286.74 590.41 L287.87 589.98 L289.00 589.55 L290.13 589.13 L291.26 588.71 L292.39 588.30 L293.52 587.90 L294.66 587.50 L295.79 587.11 L296.92 586.73 L298.05 586.36 L299.18 585.99 L300.31 585.63 L301.44 585.28 L302.58 584.94 L303.71 584.61 L304.84 584.28 L305.97 583.97 L307.10 583.66 L308.23 583.37 L309.37 583.07 L310.50 582.79 L311.63 582.51 L312.76 582.24 L313.89 581.97 L315.02 581.71 L316.15 581.45 L317.29 581.20 L318.42 580.95 L319.55 580.71 L320.68 580.47 L321.81 580.23 L322.94 580.00 L324.07 579.76 L325.21 579.53 L326.34 579.30 L327.47 579.07 L328.60 578.85 L329.73 578.62 L330.86 578.39 L332.00 578.16 L333.13 577.93 L334.26 577.70 L335.39 577.47 L336.52 577.24 L337.65 577.00 L338.78 576.77 L339.92 576.52 L341.05 576.28 L342.18 576.03 L343.31 575.78 L344.44 575.52 L345.57 575.26 L346.70 574.99 L347.84 574.71 L348.97 574.43 L350.10 574.15 L351.23 573.85 L352.36 573.55 L353.49 573.24 L354.63 572.93 L355.76 572.60 L356.89 572.27 L358.02 571.93 L359.15 571.57 L360.28 571.21 L361.41 570.84 L362.55 570.45 L363.68 570.06 L364.81 569.65 L365.94 569.24 L367.07 568.81 L368.20 568.36 L369.33 567.91 L370.47 567.45 L371.60 566.97 L372.73 566.49 L373.86 565.99 L374.99 565.48 L376.12 564.96 L377.26 564.43 L378.39 563.88 L379.52 563.33 L380.65 562.76 L381.78 562.19 L382.91 561.60 L384.04 561.01 L385.18 560.40 L386.31 559.78 L387.44 559.15 L388.57 558.51 L389.70 557.85 L390.83 557.19 L391.96 556.52 L393.10 555.84 L394.23 555.16 L395.36 554.46 L396.49 553.76 L397.62 553.05 L398.75 552.33 L399.89 551.61 L401.02 550.88 L402.15 550.14 L403.28 549.40 L404.41 548.66 L405.54 547.91 L406.67 547.16 L407.81 546.40 L408.94 545.63 L410.07 544.87 L411.20 544.09 L412.33 543.31 L413.46 542.52 L414.59 541.73 L415.73 540.93 L416.86 540.12 L417.99 539.31 L419.12 538.48 L420.25 537.65 L421.38 536.82 L422.52 535.97 L423.65 535.11 L424.78 534.25 L425.91 533.38 L427.04 532.50 L428.17 531.61 L429.30 530.72 L430.44 529.82 L431.57 528.92 L432.70 528.02 L433.83 527.12 L434.96 526.21 L436.09 525.31 L437.23 524.41 L438.36 523.51 L439.49 522.61 L440.62 521.72 L441.75 520.84 L442.88 519.96 L444.01 519.09 L445.15 518.23 L446.28 517.37 L447.41 516.53 L448.54 515.69 L449.67 514.87 L450.80 514.05 L451.93 513.24 L453.07 512.43 L454.20 511.64 L455.33 510.85 L456.46 510.08 L457.59 509.31 L458.72 508.54 L459.86 507.79 L460.99 507.04 L462.12 506.30 L463.25 505.57 L464.38 504.85 L465.51 504.15 L466.64 503.48 L467.78 502.84 L468.91 502.22 L470.04 501.63 L471.17 501.07 L472.30 500.52 L473.43 500.00 L474.56 499.50 L475.70 499.01 L476.83 498.53 L477.96 498.07 L479.09 497.62 L480.22 497.17 L481.35 496.74 L482.49 496.31 L483.62 495.88 L484.75 495.45 L485.88 495.03 L487.01 494.60 L488.14 494.17 L489.27 493.73 L490.41 493.29 L491.54 492.84 L492.67 492.39 L493.80 491.95 L494.93 491.51 L496.06 491.07 L497.19 490.63 L498.33 490.20 L499.46 489.77 L500.59 489.34 L501.72 488.93 L502.85 488.51 L503.98 488.11 L505.12 487.71 L506.25 487.31 L507.38 486.93 L508.51 486.55 L509.64 486.19 L510.77 485.83 L511.90 485.48 L513.04 485.15 L514.17 484.83 L515.30 484.53 L516.43 484.24 L517.56 483.97 L518.69 483.70 L519.82 483.44 L520.96 483.18 L522.09 482.92 L523.22 482.65 L524.35 482.37 L525.48 482.07 L526.61 481.76 L527.75 481.43 L528.88 481.07 L530.01 480.69 L531.14 480.27 L532.27 479.82 L533.40 479.33 L534.53 478.80 L535.67 478.22 L536.80 477.60 L537.93 476.94 L539.06 476.25 L540.19 475.53 L541.32 474.76 L542.45 473.96 L543.59 473.11 L544.72 472.21 L545.85 471.27 L546.98 470.28 L548.11 469.24 L549.24 468.14 L550.38 466.99 L551.51 465.78 L552.64 464.52 L553.77 463.19" fill="none" stroke="#1f77b4" stroke-width="2.2" stroke-linejoin="round" stroke-linecap="round"/>
<path d="M102.30 696.37 L103.43 696.00 L104.56 695.61 L105.69 695.22 L106.83 694.81 L107.96 694.40 L109.09 693.97 L110.22 693.54 L111.35 693.10 L112.48 692.64 L113.62 692.18 L114.75 691.71 L115.88 691.23 L117.01 690.74 L118.14 690.24 L119.27 689.74 L120.40 689.23 L121.54 688.71 L122.67 688.18 L123.80 687.65 L124.93 687.11 L126.06 686.57 L127.19 686.02 L128.32 685.46 L129.46 684.90 L130.59 684.34 L131.72 683.77 L132.85 683.20 L133.98 682.63 L135.11 682.05 L136.25 681.47 L137.38 680.88 L138.51 680.30 L139.64 679.71 L140.77 679.12 L141.90 678.53 L143.03 677.93 L144.17 677.34 L145.30 676.74 L146.43 676.14 L147.56 675.54 L148.69 674.95 L149.82 674.35 L150.95 673.75 L152.09 673.15 L153.22 672.55 L154.35 671.96 L155.48 671.36 L156.61 670.77 L157.74 670.17 L158.88 669.58 L160.01 668.99 L161.14 668.40 L162.27 667.81 L163.40 667.22 L164.53 666.63 L165.66 666.04 L166.80 665.46 L167.93 664.87 L169.06 664.30 L170.19 663.72 L171.32 663.15 L172.45 662.58 L173.58 662.00 L174.72 661.43 L175.85 660.86 L176.98 660.29 L178.11 659.71 L179.24 659.14 L180.37 658.56 L181.51 657.98 L182.64 657.39 L183.77 656.81 L184.90 656.21 L186.03 655.62 L187.16 655.01 L188.29 654.40 L189.43 653.79 L190.56 653.17 L191.69 652.54 L192.82 651.90 L193.95 651.25 L195.08 650.59 L196.21 649.93 L197.35 649.25 L198.48 648.57 L199.61 647.87 L200.74 647.16 L201.87 646.44 L203.00 645.71 L204.14 644.96 L205.27 644.21 L206.40 643.45 L207.53 642.69 L208.66 641.92 L209.79 641.15 L210.92 640.37 L212.06 639.59 L213.19 638.81 L214.32 638.02 L215.45 637.23 L216.58 636.43 L217.71 635.64 L218.84 634.84 L219.98 634.03 L221.11 633.23 L222.24 632.42 L223.37 631.60 L224.50 630.79 L225.63 629.97 L226.77 629.15 L227.90 628.33 L229.03 627.50 L230.16 626.67 L231.29 625.84 L232.42 625.01 L233.55 624.17 L234.69 623.34 L235.82 622.50 L236.95 621.66 L238.08 620.81 L239.21 619.97 L240.34 619.12 L241.47 618.28 L242.61 617.43 L243.74 616.58 L244.87 615.73 L246.00 614.87 L247.13 614.02 L248.26 613.17 L249.40 612.31 L250.53 611.45 L251.66 610.60 L252.79 609.74 L253.92 608.89 L255.05 608.05 L256.18 607.21 L257.32 606.39 L258.45 605.57 L259.58 604.77 L260.71 603.99 L261.84 603.22 L262.97 602.48 L264.11 601.76 L265.24 601.06 L266.37 600.38 L267.50 599.73 L268.63 599.10 L269.76 598.49 L270.89 597.90 L272.03 597.33 L273.16 596.77 L274.29 596.23 L275.42 595.70 L276.55 595.19 L277.68 594.69 L278.81 594.20 L279.95 593.72 L281.08 593.25 L282.21 592.79 L283.34 592.33 L284.47 591.88 L285.60 591.44 L286.74 591.00 L287.87 590.57 L289.00 590.14 L290.13 589.72 L291.26 589.30 L292.39 588.89 L293.52 588.48 L294.66 588.09 L295.79 587.70 L296.92 587.31 L298.05 586.94 L299.18 586.57 L300.31 586.21 L301.44 585.86 L302.58 585.52 L303.71 585.19 L304.84 584.87 L305.97 584.56 L307.10 584.25 L308.23 583.96 L309.37 583.68 L310.50 583.41 L311.63 583.15 L312.76 582.89 L313.89 582.65 L315.02 582.41 L316.15 582.18 L317.29 581.95 L318.42 581.73 L319.55 581.52 L320.68 581.31 L321.81 581.10 L322.94 580.90 L324.07 580.71 L325.21 580.51 L326.34 580.33 L327.47 580.14 L328.60 579.95 L329.73 579.77 L330.86 579.59 L332.00 579.40 L333.13 579.22 L334.26 579.04 L335.39 578.86 L336.52 578.67 L337.65 578.49 L338.78 578.30 L339.92 578.11 L341.05 577.91 L342.18 577.72 L343.31 577.52 L344.44 577.31 L345.57 577.10 L346.70 576.88 L347.84 576.66 L348.97 576.44 L350.10 576.20 L351.23 575.96 L352.36 575.71 L353.49 575.45 L354.63 575.19 L355.76 574.91 L356.89 574.63 L358.02 574.34 L359.15 574.03 L360.28 573.72 L361.41 573.39 L362.55 573.05 L363.68 572.71 L364.81 572.34 L365.94 571.97 L367.07 571.58 L368.20 571.18 L369.33 570.76 L370.47 570.34 L371.60 569.90 L372.73 569.45 L373.86 568.98 L374.99 568.50 L376.12 568.01 L377.26 567.50 L378.39 566.99 L379.52 566.46 L380.65 565.91 L381.78 565.36 L382.91 564.78 L384.04 564.20 L385.18 563.61 L386.31 563.00 L387.44 562.38 L388.57 561.75 L389.70 561.11 L390.83 560.46 L391.96 559.80 L393.10 559.13 L394.23 558.45 L395.36 557.76 L396.49 557.07 L397.62 556.36 L398.75 555.66 L399.89 554.94 L401.02 554.22 L402.15 553.49 L403.28 552.76 L404.41 552.02 L405.54 551.28 L406.67 550.53 L407.81 549.78 L408.94 549.02 L410.07 548.26 L411.20 547.49 L412.33 546.72 L413.46 545.93 L414.59 545.15 L415.73 544.35 L416.86 543.55 L417.99 542.74 L419.12 541.92 L420.25 541.10 L421.38 540.27 L422.52 539.42 L423.65 538.57 L424.78 537.72 L425.91 536.85 L427.04 535.97 L428.17 535.09 L429.30 534.21 L430.44 533.32 L431.57 532.42 L432.70 531.53 L433.83 530.63 L434.96 529.73 L436.09 528.84 L437.23 527.94 L438.36 527.05 L439.49 526.16 L440.62 525.28 L441.75 524.40 L442.88 523.53 L444.01 522.67 L445.15 521.81 L446.28 520.97 L447.41 520.13 L448.54 519.31 L449.67 518.49 L450.80 517.68 L451.93 516.88 L453.07 516.09 L454.20 515.30 L455.33 514.53 L456.46 513.76 L457.59 513.00 L458.72 512.26 L459.86 511.51 L460.99 510.78 L462.12 510.06 L463.25 509.34 L464.38 508.63 L465.51 507.93 L466.64 507.24 L467.78 506.56 L468.91 505.89 L470.04 505.22 L471.17 504.57 L472.30 503.93 L473.43 503.29 L474.56 502.66 L475.70 502.05 L476.83 501.44 L477.96 500.84 L479.09 500.24 L480.22 499.66 L481.35 499.08 L482.49 498.51 L483.62 497.95 L484.75 497.39 L485.88 496.85 L487.01 496.31 L488.14 495.77 L489.27 495.25 L490.41 494.73 L491.54 494.22 L492.67 493.71 L493.80 493.22 L494.93 492.74 L496.06 492.27 L497.19 491.81 L498.33 491.36 L499.46 490.91 L500.59 490.48 L501.72 490.05 L502.85 489.64 L503.98 489.23 L505.12 488.84 L506.25 488.45 L507.38 488.07 L508.51 487.70 L509.64 487.34 L510.77 486.99 L511.90 486.64 L513.04 486.31 L514.17 486.00 L515.30 485.71 L516.43 485.45 L517.56 485.22 L518.69 484.99 L519.82 484.78 L520.96 484.58 L522.09 484.39 L523.22 484.19 L524.35 483.99 L525.48 483.78 L526.61 483.56 L527.75 483.32 L528.88 483.06 L530.01 482.77 L531.14 482.46 L532.27 482.11 L533.40 481.72 L534.53 481.30 L535.67 480.82 L536.80 480.31 L537.93 479.76 L539.06 479.18 L540.19 478.55 L541.32 477.89 L542.45 477.19 L543.59 476.45 L544.72 475.66 L545.85 474.82 L546.98 473.94 L548.11 473.01 L549.24 472.02 L550.38 470.99 L551.51 469.90 L552.64 468.75 L553.77 467.55" fill="none" stroke="#ff7f0e" stroke-width="2.2" stroke-linejoin="round" stroke-linecap="round"/>
<path d="M102.30 698.69 L103.43 698.22 L104.56 697.73 L105.69 697.24 L106.83 696.73 L107.96 696.22 L109.09 695.69 L110.22 695.16 L111.35 694.62 L112.48 694.07 L113.62 693.52 L114.75 692.95 L115.88 692.38 L117.01 691.80 L118.14 691.21 L119.27 690.62 L120.40 690.02 L121.54 689.42 L122.67 688.81 L123.80 688.19 L124.93 687.57 L126.06 686.95 L127.19 686.32 L128.32 685.68 L129.46 685.05 L130.59 684.40 L131.72 683.76 L132.85 683.11 L133.98 682.46 L135.11 681.80 L136.25 681.15 L137.38 680.49 L138.51 679.83 L139.64 679.17 L140.77 678.50 L141.90 677.84 L143.03 677.18 L144.17 676.51 L145.30 675.85 L146.43 675.18 L147.56 674.52 L148.69 673.86 L149.82 673.19 L150.95 672.53 L152.09 671.88 L153.22 671.22 L154.35 670.57 L155.48 669.91 L156.61 669.27 L157.74 668.62 L158.88 667.98 L160.01 667.34 L161.14 666.70 L162.27 666.06 L163.40 665.43 L164.53 664.79 L165.66 664.16 L166.80 663.53 L167.93 662.90 L169.06 662.27 L170.19 661.65 L171.32 661.02 L172.45 660.39 L173.58 659.77 L174.72 659.15 L175.85 658.52 L176.98 657.91 L178.11 657.29 L179.24 656.67 L180.37 656.05 L181.51 655.43 L182.64 654.81 L183.77 654.19 L184.90 653.56 L186.03 652.93 L187.16 652.30 L188.29 651.67 L189.43 651.03 L190.56 650.39 L191.69 649.74 L192.82 649.08 L193.95 648.42 L195.08 647.76 L196.21 647.08 L197.35 646.40 L198.48 645.71 L199.61 645.02 L200.74 644.31 L201.87 643.60 L203.00 642.88 L204.14 642.16 L205.27 641.44 L206.40 640.71 L207.53 639.97 L208.66 639.23 L209.79 638.49 L210.92 637.74 L212.06 636.99 L213.19 636.24 L214.32 635.48 L215.45 634.71 L216.58 633.95 L217.71 633.18 L218.84 632.40 L219.98 631.62 L221.11 630.84 L222.24 630.05 L223.37 629.27 L224.50 628.47 L225.63 627.68 L226.77 626.88 L227.90 626.07 L229.03 625.27 L230.16 624.46 L231.29 623.65 L232.42 622.83 L233.55 622.01 L234.69 621.19 L235.82 620.37 L236.95 619.54 L238.08 618.71 L239.21 617.88 L240.34 617.04 L241.47 616.20 L242.61 615.36 L243.74 614.52 L244.87 613.68 L246.00 612.83 L247.13 611.98 L248.26 611.13 L249.40 610.27 L250.53 609.42 L251.66 608.55 L252.79 607.68 L253.92 606.81 L255.05 605.93 L256.18 605.06 L257.32 604.20 L258.45 603.35 L259.58 602.52 L260.71 601.71 L261.84 600.92 L262.97 600.16 L264.11 599.43 L265.24 598.73 L266.37 598.06 L267.50 597.41 L268.63 596.79 L269.76 596.18 L270.89 595.60 L272.03 595.04 L273.16 594.49 L274.29 593.96 L275.42 593.45 L276.55 592.95 L277.68 592.46 L278.81 591.99 L279.95 591.53 L281.08 591.08 L282.21 590.63 L283.34 590.20 L284.47 589.77 L285.60 589.35 L286.74 588.93 L287.87 588.51 L289.00 588.11 L290.13 587.70 L291.26 587.31 L292.39 586.92 L293.52 586.54 L294.66 586.16 L295.79 585.80 L296.92 585.43 L298.05 585.08 L299.18 584.74 L300.31 584.40 L301.44 584.07 L302.58 583.75 L303.71 583.44 L304.84 583.13 L305.97 582.84 L307.10 582.56 L308.23 582.28 L309.37 582.02 L310.50 581.76 L311.63 581.51 L312.76 581.27 L313.89 581.04 L315.02 580.81 L316.15 580.59 L317.29 580.38 L318.42 580.17 L319.55 579.97 L320.68 579.77 L321.81 579.57 L322.94 579.38 L324.07 579.19 L325.21 579.01 L326.34 578.83 L327.47 578.64 L328.60 578.46 L329.73 578.29 L330.86 578.11 L332.00 577.93 L333.13 577.75 L334.26 577.57 L335.39 577.39 L336.52 577.21 L337.65 577.02 L338.78 576.84 L339.92 576.65 L341.05 576.45 L342.18 576.25 L343.31 576.05 L344.44 575.84 L345.57 575.63 L346.70 575.41 L347.84 575.19 L348.97 574.96 L350.10 574.72 L351.23 574.48 L352.36 574.22 L353.49 573.96 L354.63 573.69 L355.76 573.41 L356.89 573.12 L358.02 572.82 L359.15 572.51 L360.28 572.19 L361.41 571.85 L362.55 571.51 L363.68 571.15 L364.81 570.78 L365.94 570.40 L367.07 570.00 L368.20 569.59 L369.33 569.17 L370.47 568.73 L371.60 568.28 L372.73 567.82 L373.86 567.34 L374.99 566.85 L376.12 566.35 L377.26 565.83 L378.39 565.30 L379.52 564.76 L380.65 564.21 L381.78 563.64 L382.91 563.05 L384.04 562.46 L385.18 561.85 L386.31 561.23 L387.44 560.60 L388.57 559.96 L389.70 559.31 L390.83 558.65 L391.96 557.98 L393.10 557.30 L394.23 556.61 L395.36 555.91 L396.49 555.21 L397.62 554.50 L398.75 553.78 L399.89 553.06 L401.02 552.33 L402.15 551.60 L403.28 550.86 L404.41 550.11 L405.54 549.36 L406.67 548.61 L407.81 547.85 L408.94 547.09 L410.07 546.32 L411.20 545.54 L412.33 544.76 L413.46 543.98 L414.59 543.18 L415.73 542.38 L416.86 541.58 L417.99 540.76 L419.12 539.94 L420.25 539.11 L421.38 538.27 L422.52 537.42 L423.65 536.57 L424.78 535.70 L425.91 534.83 L427.04 533.95 L428.17 533.06 L429.30 532.17 L430.44 531.28 L431.57 530.38 L432.70 529.47 L433.83 528.57 L434.96 527.67 L436.09 526.76 L437.23 525.86 L438.36 524.96 L439.49 524.07 L440.62 523.18 L441.75 522.29 L442.88 521.41 L444.01 520.54 L445.15 519.68 L446.28 518.83 L447.41 517.98 L448.54 517.15 L449.67 516.32 L450.80 515.50 L451.93 514.69 L453.07 513.89 L454.20 513.09 L455.33 512.31 L456.46 511.53 L457.59 510.76 L458.72 510.00 L459.86 509.24 L460.99 508.50 L462.12 507.76 L463.25 507.03 L464.38 506.30 L465.51 505.59 L466.64 504.89 L467.78 504.20 L468.91 503.52 L470.04 502.85 L471.17 502.20 L472.30 501.55 L473.43 500.92 L474.56 500.29 L475.70 499.68 L476.83 499.07 L477.96 498.48 L479.09 497.89 L480.22 497.31 L481.35 496.74 L482.49 496.17 L483.62 495.61 L484.75 495.06 L485.88 494.52 L487.01 493.98 L488.14 493.45 L489.27 492.92 L490.41 492.40 L491.54 491.89 L492.67 491.38 L493.80 490.89 L494.93 490.41 L496.06 489.93 L497.19 489.47 L498.33 489.01 L499.46 488.56 L500.59 488.12 L501.72 487.69 L502.85 487.26 L503.98 486.84 L505.12 486.43 L506.25 486.02 L507.38 485.62 L508.51 485.22 L509.64 484.83 L510.77 484.45 L511.90 484.07 L513.04 483.69 L514.17 483.33 L515.30 482.98 L516.43 482.65 L517.56 482.33 L518.69 482.02 L519.82 481.70 L520.96 481.39 L522.09 481.07 L523.22 480.73 L524.35 480.39 L525.48 480.03 L526.61 479.64 L527.75 479.23 L528.88 478.80 L530.01 478.32 L531.14 477.81 L532.27 477.26 L533.40 476.67 L534.53 476.02 L535.67 475.32 L536.80 474.58 L537.93 473.80 L539.06 472.99 L540.19 472.15 L541.32 471.26 L542.45 470.33 L543.59 469.36 L544.72 468.35 L545.85 467.28 L546.98 466.17 L548.11 464.99 L549.24 463.77 L550.38 462.48 L551.51 461.13 L552.64 459.72 L553.77 458.24" fill="none" stroke="#2ca02c" stroke-width="2.2" stroke-linejoin="round" stroke-linecap="round"/>
<path d="M102.30 692.59 L103.43 692.26 L104.56 691.93 L105.69 691.58 L106.83 691.22 L107.96 690.85 L109.09 690.47 L110.22 690.08 L111.35 689.68 L112.48 689.27 L113.62 688.85 L114.75 688.42 L115.88 687.99 L117.01 687.54 L118.14 687.09 L119.27 686.63 L120.40 686.17 L121.54 685.69 L122.67 685.21 L123.80 684.73 L124.93 684.23 L126.06 683.74 L127.19 683.23 L128.32 682.72 L129.46 682.21 L130.59 681.69 L131.72 681.16 L132.85 680.64 L133.98 680.10 L135.11 679.56 L136.25 679.02 L137.38 678.48 L138.51 677.93 L139.64 677.38 L140.77 676.82 L141.90 676.26 L143.03 675.69 L144.17 675.12 L145.30 674.55 L146.43 673.98 L147.56 673.41 L148.69 672.83 L149.82 672.26 L150.95 671.69 L152.09 671.13 L153.22 670.56 L154.35 670.00 L155.48 669.45 L156.61 668.90 L157.74 668.36 L158.88 667.83 L160.01 667.31 L161.14 666.78 L162.27 666.27 L163.40 665.75 L164.53 665.24 L165.66 664.72 L166.80 664.21 L167.93 663.69 L169.06 663.17 L170.19 662.65 L171.32 662.12 L172.45 661.59 L173.58 661.05 L174.72 660.51 L175.85 659.96 L176.98 659.42 L178.11 658.87 L179.24 658.31 L180.37 657.76 L181.51 657.20 L182.64 656.64 L183.77 656.08 L184.90 655.51 L186.03 654.96 L187.16 654.40 L188.29 653.84 L189.43 653.28 L190.56 652.72 L191.69 652.15 L192.82 651.58 L193.95 651.00 L195.08 650.41 L196.21 649.80 L197.35 649.19 L198.48 648.55 L199.61 647.90 L200.74 647.23 L201.87 646.55 L203.00 645.87 L204.14 645.18 L205.27 644.49 L206.40 643.79 L207.53 643.09 L208.66 642.38 L209.79 641.67 L210.92 640.96 L212.06 640.23 L213.19 639.51 L214.32 638.78 L215.45 638.04 L216.58 637.30 L217.71 636.56 L218.84 635.81 L219.98 635.05 L221.11 634.29 L222.24 633.53 L223.37 632.77 L224.50 631.99 L225.63 631.22 L226.77 630.44 L227.90 629.66 L229.03 628.87 L230.16 628.08 L231.29 627.28 L232.42 626.48 L233.55 625.68 L234.69 624.87 L235.82 624.06 L236.95 623.25 L238.08 622.43 L239.21 621.61 L240.34 620.78 L241.47 619.95 L242.61 619.12 L243.74 618.28 L244.87 617.44 L246.00 616.60 L247.13 615.76 L248.26 614.91 L249.40 614.05 L250.53 613.20 L251.66 612.34 L252.79 611.49 L253.92 610.64 L255.05 609.79 L256.18 608.96 L257.32 608.13 L258.45 607.32 L259.58 606.52 L260.71 605.73 L261.84 604.97 L262.97 604.22 L264.11 603.50 L265.24 602.80 L266.37 602.11 L267.50 601.43 L268.63 600.76 L269.76 600.11 L270.89 599.47 L272.03 598.83 L273.16 598.21 L274.29 597.60 L275.42 596.99 L276.55 596.40 L277.68 595.81 L278.81 595.23 L279.95 594.66 L281.08 594.10 L282.21 593.54 L283.34 592.99 L284.47 592.44 L285.60 591.90 L286.74 591.36 L287.87 590.83 L289.00 590.31 L290.13 589.79 L291.26 589.29 L292.39 588.79 L293.52 588.31 L294.66 587.84 L295.79 587.38 L296.92 586.93 L298.05 586.50 L299.18 586.09 L300.31 585.69 L301.44 585.31 L302.58 584.95 L303.71 584.61 L304.84 584.29 L305.97 583.97 L307.10 583.67 L308.23 583.38 L309.37 583.10 L310.50 582.83 L311.63 582.57 L312.76 582.31 L313.89 582.06 L315.02 581.83 L316.15 581.59 L317.29 581.37 L318.42 581.15 L319.55 580.93 L320.68 580.72 L321.81 580.52 L322.94 580.32 L324.07 580.12 L325.21 579.93 L326.34 579.74 L327.47 579.56 L328.60 579.37 L329.73 579.19 L330.86 579.01 L332.00 578.82 L333.13 578.64 L334.26 578.46 L335.39 578.28 L336.52 578.10 L337.65 577.91 L338.78 577.73 L339.92 577.54 L341.05 577.35 L342.18 577.15 L343.31 576.95 L344.44 576.75 L345.57 576.54 L346.70 576.33 L347.84 576.11 L348.97 575.89 L350.10 575.66 L351.23 575.42 L352.36 575.18 L353.49 574.92 L354.63 574.66 L355.76 574.39 L356.89 574.11 L358.02 573.83 L359.15 573.53 L360.28 573.22 L361.41 572.90 L362.55 572.57 L363.68 572.23 L364.81 571.87 L365.94 571.50 L367.07 571.12 L368.20 570.73 L369.33 570.33 L370.47 569.91 L371.60 569.48 L372.73 569.03 L373.86 568.58 L374.99 568.11 L376.12 567.63 L377.26 567.14 L378.39 566.63 L379.52 566.11 L380.65 565.58 L381.78 565.04 L382.91 564.48 L384.04 563.91 L385.18 563.33 L386.31 562.74 L387.44 562.13 L388.57 561.52 L389.70 560.90 L390.83 560.27 L391.96 559.63 L393.10 558.99 L394.23 558.33 L395.36 557.67 L396.49 557.00 L397.62 556.32 L398.75 555.64 L399.89 554.95 L401.02 554.25 L402.15 553.55 L403.28 552.84 L404.41 552.13 L405.54 551.41 L406.67 550.68 L407.81 549.95 L408.94 549.22 L410.07 548.47 L411.20 547.72 L412.33 546.96 L413.46 546.20 L414.59 545.42 L415.73 544.64 L416.86 543.85 L417.99 543.05 L419.12 542.24 L420.25 541.42 L421.38 540.59 L422.52 539.75 L423.65 538.89 L424.78 538.03 L425.91 537.15 L427.04 536.27 L428.17 535.37 L429.30 534.47 L430.44 533.56 L431.57 532.65 L432.70 531.73 L433.83 530.81 L434.96 529.89 L436.09 528.96 L437.23 528.04 L438.36 527.12 L439.49 526.20 L440.62 525.29 L441.75 524.38 L442.88 523.48 L444.01 522.58 L445.15 521.69 L446.28 520.82 L447.41 519.95 L448.54 519.09 L449.67 518.24 L450.80 517.40 L451.93 516.56 L453.07 515.74 L454.20 514.93 L455.33 514.12 L456.46 513.33 L457.59 512.55 L458.72 511.77 L459.86 511.01 L460.99 510.25 L462.12 509.51 L463.25 508.77 L464.38 508.05 L465.51 507.33 L466.64 506.64 L467.78 505.95 L468.91 505.28 L470.04 504.62 L471.17 503.98 L472.30 503.34 L473.43 502.72 L474.56 502.11 L475.70 501.51 L476.83 500.92 L477.96 500.33 L479.09 499.76 L480.22 499.20 L481.35 498.64 L482.49 498.09 L483.62 497.55 L484.75 497.02 L485.88 496.49 L487.01 495.97 L488.14 495.46 L489.27 494.94 L490.41 494.44 L491.54 493.94 L492.67 493.45 L493.80 492.96 L494.93 492.48 L496.06 492.01 L497.19 491.55 L498.33 491.10 L499.46 490.66 L500.59 490.22 L501.72 489.79 L502.85 489.38 L503.98 488.97 L505.12 488.57 L506.25 488.17 L507.38 487.79 L508.51 487.42 L509.64 487.05 L510.77 486.70 L511.90 486.35 L513.04 486.02 L514.17 485.71 L515.30 485.42 L516.43 485.16 L517.56 484.93 L518.69 484.70 L519.82 484.49 L520.96 484.29 L522.09 484.10 L523.22 483.90 L524.35 483.70 L525.48 483.49 L526.61 483.26 L527.75 483.03 L528.88 482.77 L530.01 482.48 L531.14 482.17 L532.27 481.82 L533.40 481.43 L534.53 481.01 L535.67 480.53 L536.80 480.02 L537.93 479.47 L539.06 478.89 L540.19 478.26 L541.32 477.60 L542.45 476.90 L543.59 476.16 L544.72 475.37 L545.85 474.53 L546.98 473.65 L548.11 472.72 L549.24 471.73 L550.38 470.70 L551.51 469.61 L552.64 468.46 L553.77 467.26" fill="none" stroke="#d62728" stroke-width="2.2" stroke-linejoin="round" stroke-linecap="round"/>
<path d="M102.30 705.96 L103.43 705.45 L104.56 704.92 L105.69 704.39 L106.83 703.84 L107.96 703.29 L109.09 702.72 L110.22 702.15 L111.35 701.57 L112.48 700.98 L113.62 700.38 L114.75 699.77 L115.88 699.16 L117.01 698.54 L118.14 697.91 L119.27 697.27 L120.40 696.63 L121.54 695.98 L122.67 695.33 L123.80 694.67 L124.93 694.00 L126.06 693.34 L127.19 692.66 L128.32 691.98 L129.46 691.30 L130.59 690.61 L131.72 689.92 L132.85 689.22 L133.98 688.53 L135.11 687.83 L136.25 687.12 L137.38 686.42 L138.51 685.71 L139.64 685.00 L140.77 684.29 L141.90 683.58 L143.03 682.87 L144.17 682.16 L145.30 681.44 L146.43 680.73 L147.56 680.02 L148.69 679.30 L149.82 678.59 L150.95 677.88 L152.09 677.17 L153.22 676.46 L154.35 675.76 L155.48 675.06 L156.61 674.36 L157.74 673.66 L158.88 672.96 L160.01 672.27 L161.14 671.58 L162.27 670.89 L163.40 670.20 L164.53 669.51 L165.66 668.83 L166.80 668.14 L167.93 667.46 L169.06 666.78 L170.19 666.10 L171.32 665.41 L172.45 664.73 L173.58 664.05 L174.72 663.37 L175.85 662.69 L176.98 662.01 L178.11 661.32 L179.24 660.64 L180.37 659.95 L181.51 659.27 L182.64 658.58 L183.77 657.89 L184.90 657.19 L186.03 656.50 L187.16 655.80 L188.29 655.11 L189.43 654.40 L190.56 653.70 L191.69 652.99 L192.82 652.28 L193.95 651.57 L195.08 650.85 L196.21 650.13 L197.35 649.41 L198.48 648.68 L199.61 647.94 L200.74 647.21 L201.87 646.46 L203.00 645.72 L204.14 644.96 L205.27 644.21 L206.40 643.45 L207.53 642.69 L208.66 641.92 L209.79 641.15 L210.92 640.37 L212.06 639.59 L213.19 638.81 L214.32 638.02 L215.45 637.23 L216.58 636.43 L217.71 635.64 L218.84 634.84 L219.98 634.03 L221.11 633.23 L222.24 632.42 L223.37 631.60 L224.50 630.79 L225.63 629.97 L226.77 629.15 L227.90 628.33 L229.03 627.50 L230.16 626.67 L231.29 625.84 L232.42 625.01 L233.55 624.17 L234.69 623.34 L235.82 622.50 L236.95 621.66 L238.08 620.81 L239.21 619.97 L240.34 619.12 L241.47 618.28 L242.61 617.43 L243.74 616.58 L244.87 615.73 L246.00 614.87 L247.13 614.02 L248.26 613.17 L249.40 612.31 L250.53 611.45 L251.66 610.60 L252.79 609.74 L253.92 608.89 L255.05 608.05 L256.18 607.21 L257.32 606.39 L258.45 605.57 L259.58 604.77 L260.71 603.99 L261.84 603.22 L262.97 602.48 L264.11 601.76 L265.24 601.06 L266.37 600.38 L267.50 599.73 L268.63 599.10 L269.76 598.49 L270.89 597.90 L272.03 597.33 L273.16 596.77 L274.29 596.23 L275.42 595.70 L276.55 595.19 L277.68 594.69 L278.81 594.20 L279.95 593.72 L281.08 593.25 L282.21 592.79 L283.34 592.33 L284.47 591.88 L285.60 591.44 L286.74 591.00 L287.87 590.57 L289.00 590.14 L290.13 589.72 L291.26 589.30 L292.39 588.89 L293.52 588.48 L294.66 588.09 L295.79 587.70 L296.92 587.31 L298.05 586.94 L299.18 586.57 L300.31 586.21 L301.44 585.86 L302.58 585.52 L303.71 585.19 L304.84 584.87 L305.97 584.55 L307.10 584.25 L308.23 583.95 L309.37 583.67 L310.50 583.39 L311.63 583.11 L312.76 582.85 L313.89 582.59 L315.02 582.33 L316.15 582.09 L317.29 581.84 L318.42 581.61 L319.55 581.37 L320.68 581.15 L321.81 580.92 L322.94 580.70 L324.07 580.48 L325.21 580.26 L326.34 580.05 L327.47 579.83 L328.60 579.62 L329.73 579.41 L330.86 579.20 L332.00 578.99 L333.13 578.78 L334.26 578.56 L335.39 578.35 L336.52 578.13 L337.65 577.92 L338.78 577.69 L339.92 577.47 L341.05 577.24 L342.18 577.01 L343.31 576.78 L344.44 576.54 L345.57 576.30 L346.70 576.05 L347.84 575.79 L348.97 575.53 L350.10 575.26 L351.23 574.98 L352.36 574.70 L353.49 574.41 L354.63 574.11 L355.76 573.80 L356.89 573.49 L358.02 573.16 L359.15 572.82 L360.28 572.48 L361.41 572.12 L362.55 571.75 L363.68 571.37 L364.81 570.98 L365.94 570.57 L367.07 570.16 L368.20 569.73 L369.33 569.29 L370.47 568.83 L371.60 568.37 L372.73 567.89 L373.86 567.40 L374.99 566.90 L376.12 566.39 L377.26 565.86 L378.39 565.32 L379.52 564.77 L380.65 564.21 L381.78 563.64 L382.91 563.06 L384.04 562.46 L385.18 561.85 L386.31 561.23 L387.44 560.60 L388.57 559.96 L389.70 559.31 L390.83 558.65 L391.96 557.98 L393.10 557.30 L394.23 556.61 L395.36 555.91 L396.49 555.21 L397.62 554.50 L398.75 553.78 L399.89 553.06 L401.02 552.33 L402.15 551.60 L403.28 550.86 L404.41 550.11 L405.54 549.36 L406.67 548.61 L407.81 547.85 L408.94 547.09 L410.07 546.32 L411.20 545.54 L412.33 544.76 L413.46 543.98 L414.59 543.18 L415.73 542.38 L416.86 541.58 L417.99 540.76 L419.12 539.94 L420.25 539.11 L421.38 538.27 L422.52 537.42 L423.65 536.57 L424.78 535.70 L425.91 534.83 L427.04 533.95 L428.17 533.06 L429.30 532.17 L430.44 531.28 L431.57 530.38 L432.70 529.47 L433.83 528.57 L434.96 527.67 L436.09 526.76 L437.23 525.86 L438.36 524.96 L439.49 524.07 L440.62 523.18 L441.75 522.29 L442.88 521.41 L444.01 520.54 L445.15 519.68 L446.28 518.83 L447.41 517.98 L448.54 517.15 L449.67 516.32 L450.80 515.50 L451.93 514.69 L453.07 513.89 L454.20 513.09 L455.33 512.31 L456.46 511.53 L457.59 510.76 L458.72 510.00 L459.86 509.24 L460.99 508.50 L462.12 507.76 L463.25 507.03 L464.38 506.30 L465.51 505.58 L466.64 504.87 L467.78 504.17 L468.91 503.48 L470.04 502.79 L471.17 502.11 L472.30 501.43 L473.43 500.77 L474.56 500.11 L475.70 499.45 L476.83 498.80 L477.96 498.16 L479.09 497.53 L480.22 496.90 L481.35 496.28 L482.49 495.66 L483.62 495.05 L484.75 494.45 L485.88 493.85 L487.01 493.26 L488.14 492.67 L489.27 492.09 L490.41 491.52 L491.54 490.95 L492.67 490.38 L493.80 489.83 L494.93 489.27 L496.06 488.72 L497.19 488.18 L498.33 487.64 L499.46 487.11 L500.59 486.58 L501.72 486.06 L502.85 485.54 L503.98 485.02 L505.12 484.52 L506.25 484.01 L507.38 483.51 L508.51 483.01 L509.64 482.52 L510.77 482.03 L511.90 481.55 L513.04 481.07 L514.17 480.59 L515.30 480.12 L516.43 479.64 L517.56 479.17 L518.69 478.69 L519.82 478.21 L520.96 477.72 L522.09 477.23 L523.22 476.72 L524.35 476.21 L525.48 475.68 L526.61 475.14 L527.75 474.58 L528.88 474.00 L530.01 473.41 L531.14 472.79 L532.27 472.15 L533.40 471.49 L534.53 470.80 L535.67 470.09 L536.80 469.34 L537.93 468.57 L539.06 467.76 L540.19 466.92 L541.32 466.04 L542.45 465.13 L543.59 464.18 L544.72 463.19 L545.85 462.15 L546.98 461.07 L548.11 459.95 L549.24 458.78 L550.38 457.56 L551.51 456.29 L552.64 454.97 L553.77 453.59" fill="none" stroke="#9467bd" stroke-width="2.2" stroke-linejoin="round" stroke-linecap="round"/>
</g>
<rect x="79.45" y="441.50" width="501.55" height="279.00" fill="none" stroke="#000" stroke-width="1.03"/>
<line x1="74.95" y1="695.50" x2="79.45" y2="695.50" stroke="#000" stroke-width="1.03"/>
<text class="s t" transform="translate(62.29 700.60) scale(0.97 1)" font-size="13.90">4</text>
<rect x="53.1" y="695.82" width="7.5" height="1.15" fill="#000"/>
<line x1="74.95" y1="637.35" x2="79.45" y2="637.35" stroke="#000" stroke-width="1.03"/>
<text class="s t" transform="translate(62.56 642.45) scale(0.97 1)" font-size="13.90">2</text>
<rect x="53.1" y="637.67" width="7.5" height="1.15" fill="#000"/>
<line x1="74.95" y1="579.20" x2="79.45" y2="579.20" stroke="#000" stroke-width="1.03"/>
<text class="s t" transform="translate(62.42 584.30) scale(0.97 1)" font-size="13.90">0</text>
<line x1="74.95" y1="521.05" x2="79.45" y2="521.05" stroke="#000" stroke-width="1.03"/>
<text class="s t" transform="translate(62.56 526.15) scale(0.97 1)" font-size="13.90">2</text>
<line x1="74.95" y1="462.90" x2="79.45" y2="462.90" stroke="#000" stroke-width="1.03"/>
<text class="s t" transform="translate(62.29 468.00) scale(0.97 1)" font-size="13.90">4</text>
<line x1="102.50" y1="720.50" x2="102.50" y2="725.00" stroke="#000" stroke-width="1.0"/>
<text class="s t" text-anchor="middle" transform="translate(102.40 738.60) scale(1.05 1)" font-size="13.90">0</text>
<line x1="193.50" y1="720.50" x2="193.50" y2="725.00" stroke="#000" stroke-width="1.0"/>
<text class="s t" text-anchor="middle" transform="translate(193.40 738.60) scale(1.05 1)" font-size="13.90">20</text>
<line x1="284.50" y1="720.50" x2="284.50" y2="725.00" stroke="#000" stroke-width="1.0"/>
<text class="s t" text-anchor="middle" transform="translate(284.40 738.60) scale(1.05 1)" font-size="13.90">40</text>
<line x1="375.50" y1="720.50" x2="375.50" y2="725.00" stroke="#000" stroke-width="1.0"/>
<text class="s t" text-anchor="middle" transform="translate(375.40 738.60) scale(1.05 1)" font-size="13.90">60</text>
<line x1="466.50" y1="720.50" x2="466.50" y2="725.00" stroke="#000" stroke-width="1.0"/>
<text class="s t" text-anchor="middle" transform="translate(466.40 738.60) scale(1.05 1)" font-size="13.90">80</text>
<line x1="558.50" y1="720.50" x2="558.50" y2="725.00" stroke="#000" stroke-width="1.0"/>
<text class="s t" text-anchor="middle" transform="translate(558.40 738.60) scale(1.05 1)" font-size="13.90">100</text>
<text class="s t" transform="translate(302.97 756.20) scale(1.028 1)" font-size="14.20">Quantile</text>
<text class="s t" text-anchor="middle" transform="translate(44.9 580.40) rotate(-90) scale(1.046 1)" font-size="14.20">Value</text>
<rect x="86" y="448.30" width="150.4" height="22" rx="3" fill="#fff" fill-opacity="0.8" stroke="#cccccc" stroke-width="1"/>
<line x1="91" y1="458.45" x2="116.8" y2="458.45" stroke="#000" stroke-width="2.1" stroke-dasharray="7.16 3.1"/>
<text class="s t" transform="translate(126.90 463.20) scale(1.051 1)" font-size="14.20">True distribution</text>
<g class="r">
</g>
</svg>
<svg width="616" height="840" viewBox="0 0 616 840" style="position:absolute;left:0;top:0">
<text class="r bold" transform="translate(241.1 392.8) scale(1.06 1)" font-size="23.7">(a)</text>
<text class="m thin" transform="translate(275.9 392.8) scale(1.15 1)" font-size="21.7">IQN&#8722;RNN</text>
<text class="r bold" transform="translate(241.35 798.6) scale(1.0 1)" font-size="23.7">(b)</text>
<text class="m thin" transform="translate(277.4 798.8) scale(1.15 1)" font-size="21.7">SQF&#8722;RNN</text>
<g class="r" font-size="25">
<text x="-17" y="854.6" font-weight="bold">Figure 2:</text>
<text x="80.7" y="854.6">Estimated</text>
<text x="185.5" y="854.6">quantile</text>
<text x="279.5" y="854.6">functions</text>
<text x="383.5" y="854.6">for</text>
<text x="423.5" y="854.6">five</text>
<text x="469.6" y="854.6">training</text>
<text x="556" y="854.6">runs</text>
<text x="597.2" y="854.6">in</text>
</g>
</svg>
</body></html>
